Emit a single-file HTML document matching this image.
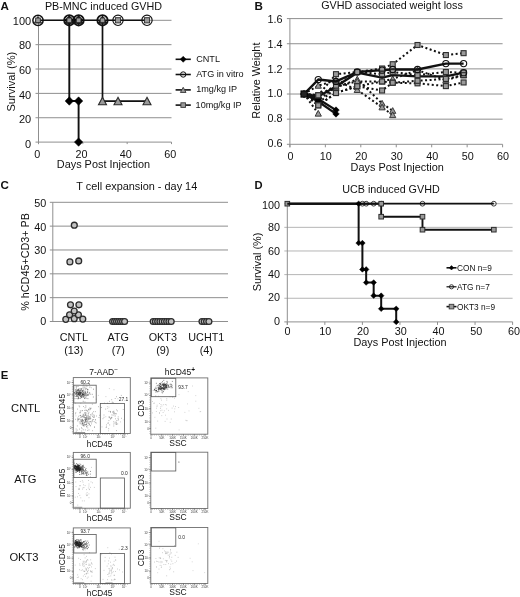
<!DOCTYPE html>
<html lang="en">
<head>
<meta charset="utf-8">
<title>Figure: ATG / OKT3 and GVHD</title>
<style>
html,body{margin:0;padding:0;background:#fff;}
body{width:520px;height:597px;overflow:hidden;font-family:"Liberation Sans", sans-serif;}
svg{display:block;font-family:"Liberation Sans", sans-serif;will-change:transform;-webkit-font-smoothing:antialiased;}
svg text{font-family:"Liberation Sans", sans-serif;}
</style>
</head>
<body>
<svg width="520" height="597" viewBox="0 0 520 597">
<rect x="0" y="0" width="520" height="597" fill="#ffffff"/>
<g id="panelA">
<text x="0.60" y="9.80" font-size="11.6" font-weight="bold" fill="#111">A</text>
<text x="103.50" y="9.70" font-size="10.75" text-anchor="middle" fill="#111">PB-MNC induced GVHD</text>
<line x1="35.50" y1="142.10" x2="171.50" y2="142.10" stroke="#8f8f8f" stroke-width="1"/>
<text x="31.20" y="147.75" font-size="11.0" text-anchor="end" fill="#111">0</text>
<line x1="35.50" y1="117.74" x2="171.50" y2="117.74" stroke="#8f8f8f" stroke-width="1"/>
<text x="31.20" y="123.17" font-size="11.0" text-anchor="end" fill="#111">20</text>
<line x1="35.50" y1="93.38" x2="171.50" y2="93.38" stroke="#8f8f8f" stroke-width="1"/>
<text x="31.20" y="98.59" font-size="11.0" text-anchor="end" fill="#111">40</text>
<line x1="35.50" y1="69.02" x2="171.50" y2="69.02" stroke="#8f8f8f" stroke-width="1"/>
<text x="31.20" y="74.01" font-size="11.0" text-anchor="end" fill="#111">60</text>
<line x1="35.50" y1="44.66" x2="171.50" y2="44.66" stroke="#8f8f8f" stroke-width="1"/>
<text x="31.20" y="49.43" font-size="11.0" text-anchor="end" fill="#111">80</text>
<line x1="35.50" y1="20.30" x2="171.50" y2="20.30" stroke="#8f8f8f" stroke-width="1"/>
<text x="31.20" y="24.85" font-size="11.0" text-anchor="end" fill="#111">100</text>
<line x1="38.50" y1="20.30" x2="38.50" y2="144.10" stroke="#8f8f8f" stroke-width="1"/>
<line x1="38.50" y1="142.10" x2="38.50" y2="144.10" stroke="#8f8f8f" stroke-width="1"/>
<text x="37.20" y="157.60" font-size="10.8" text-anchor="middle" fill="#111">0</text>
<line x1="82.83" y1="142.10" x2="82.83" y2="144.10" stroke="#8f8f8f" stroke-width="1"/>
<text x="81.53" y="157.60" font-size="10.8" text-anchor="middle" fill="#111">20</text>
<line x1="127.17" y1="142.10" x2="127.17" y2="144.10" stroke="#8f8f8f" stroke-width="1"/>
<text x="125.87" y="157.60" font-size="10.8" text-anchor="middle" fill="#111">40</text>
<line x1="171.50" y1="142.10" x2="171.50" y2="144.10" stroke="#8f8f8f" stroke-width="1"/>
<text x="170.20" y="157.60" font-size="10.8" text-anchor="middle" fill="#111">60</text>
<text x="103.40" y="168.20" font-size="10.9" text-anchor="middle" fill="#111">Days Post Injection</text>
<text x="14.90" y="81.70" font-size="11.1" text-anchor="middle" transform="rotate(-90 14.90 81.70)" fill="#111">Survival (%)</text>
<polyline points="38.00,20.30 147.00,20.30" fill="none" stroke="#111" stroke-width="1.6" stroke-linejoin="round"/>
<polyline points="102.50,20.30 102.50,101.04 147.00,101.04" fill="none" stroke="#111" stroke-width="1.7" stroke-linejoin="round"/>
<polyline points="69.30,20.30 69.30,101.04 78.60,101.04 78.60,142.10" fill="none" stroke="#111" stroke-width="1.9" stroke-linejoin="round"/>
<circle cx="38.00" cy="20.30" r="5.15" fill="none" stroke="#111" stroke-width="1.5"/>
<path d="M38.00 16.40L41.60 23.06L34.40 23.06Z" fill="#bbb" stroke="#333" stroke-width="1.0"/>
<rect x="35.70" y="18.00" width="4.60" height="4.60" fill="#9a9a9a" stroke="#2a2a2a" stroke-width="0.9"/>
<path d="M69.30 15.70L73.90 20.30L69.30 24.90L64.70 20.30Z" fill="#000" stroke="#000" stroke-width="0.5"/>
<circle cx="69.30" cy="20.30" r="5.15" fill="none" stroke="#111" stroke-width="1.9"/>
<path d="M69.30 16.30L73.00 23.14L65.60 23.14Z" fill="#777" stroke="#151515" stroke-width="1.3"/>
<rect x="67.00" y="18.00" width="4.60" height="4.60" fill="#9a9a9a" stroke="#2a2a2a" stroke-width="0.9"/>
<path d="M78.60 15.70L83.20 20.30L78.60 24.90L74.00 20.30Z" fill="#000" stroke="#000" stroke-width="0.5"/>
<circle cx="78.60" cy="20.30" r="5.15" fill="none" stroke="#111" stroke-width="1.9"/>
<path d="M78.60 16.30L82.30 23.14L74.90 23.14Z" fill="#777" stroke="#151515" stroke-width="1.3"/>
<rect x="76.30" y="18.00" width="4.60" height="4.60" fill="#9a9a9a" stroke="#2a2a2a" stroke-width="0.9"/>
<circle cx="102.50" cy="20.30" r="5.15" fill="none" stroke="#111" stroke-width="1.9"/>
<path d="M102.50 16.30L106.20 23.14L98.80 23.14Z" fill="#777" stroke="#151515" stroke-width="1.3"/>
<rect x="100.20" y="18.00" width="4.60" height="4.60" fill="#9a9a9a" stroke="#2a2a2a" stroke-width="0.9"/>
<circle cx="118.00" cy="20.30" r="5.15" fill="none" stroke="#111" stroke-width="1.15"/>
<rect x="115.40" y="17.70" width="5.20" height="5.20" fill="#9a9a9a" stroke="#2a2a2a" stroke-width="0.9"/>
<circle cx="147.00" cy="20.30" r="5.15" fill="none" stroke="#111" stroke-width="1.15"/>
<rect x="144.40" y="17.70" width="5.20" height="5.20" fill="#9a9a9a" stroke="#2a2a2a" stroke-width="0.9"/>
<path d="M102.50 97.34L106.50 104.74L98.50 104.74Z" fill="#9a9a9a" stroke="#2a2a2a" stroke-width="1.1"/>
<path d="M118.00 97.34L122.00 104.74L114.00 104.74Z" fill="#9a9a9a" stroke="#2a2a2a" stroke-width="1.1"/>
<path d="M147.00 97.34L151.00 104.74L143.00 104.74Z" fill="#9a9a9a" stroke="#2a2a2a" stroke-width="1.1"/>
<path d="M69.30 96.84L73.50 101.04L69.30 105.24L65.10 101.04Z" fill="#000" stroke="#000" stroke-width="0.5"/>
<path d="M78.60 96.84L82.80 101.04L78.60 105.24L74.40 101.04Z" fill="#000" stroke="#000" stroke-width="0.5"/>
<path d="M78.60 137.90L82.80 142.10L78.60 146.30L74.40 142.10Z" fill="#000" stroke="#000" stroke-width="0.5"/>
<line x1="175.60" y1="59.30" x2="190.80" y2="59.30" stroke="#111" stroke-width="1.6"/>
<path d="M183.20 56.30L186.20 59.30L183.20 62.30L180.20 59.30Z" fill="#000" stroke="#000" stroke-width="0.5"/>
<text x="196.20" y="61.80" font-size="9.1" fill="#111">CNTL</text>
<line x1="175.60" y1="74.50" x2="190.80" y2="74.50" stroke="#111" stroke-width="1.6"/>
<circle cx="183.20" cy="74.50" r="2.7" fill="none" stroke="#111" stroke-width="1"/>
<text x="196.20" y="77.00" font-size="9.1" fill="#111">ATG in vitro</text>
<line x1="175.60" y1="89.90" x2="190.80" y2="89.90" stroke="#111" stroke-width="1.6"/>
<path d="M183.20 87.30L186.00 92.48L180.40 92.48Z" fill="#9a9a9a" stroke="#3a3a3a" stroke-width="0.9"/>
<text x="196.20" y="92.40" font-size="9.1" fill="#111">1mg/kg IP</text>
<line x1="175.60" y1="105.10" x2="190.80" y2="105.10" stroke="#111" stroke-width="1.6"/>
<rect x="180.90" y="102.80" width="4.60" height="4.60" fill="#9a9a9a" stroke="#3a3a3a" stroke-width="0.9"/>
<text x="195.60" y="107.60" font-size="9.1" fill="#111">10mg/kg IP</text>
</g>
<g id="panelB">
<text x="254.40" y="9.80" font-size="11.6" font-weight="bold" fill="#111">B</text>
<text x="392.00" y="9.40" font-size="10.75" text-anchor="middle" fill="#111">GVHD associated weight loss</text>
<line x1="286.90" y1="144.30" x2="502.60" y2="144.30" stroke="#8f8f8f" stroke-width="1"/>
<text x="282.50" y="146.80" font-size="10.8" text-anchor="end" fill="#111">0.6</text>
<line x1="286.90" y1="119.16" x2="502.60" y2="119.16" stroke="#8f8f8f" stroke-width="1"/>
<text x="282.50" y="122.08" font-size="10.8" text-anchor="end" fill="#111">0.8</text>
<line x1="286.90" y1="94.02" x2="502.60" y2="94.02" stroke="#8f8f8f" stroke-width="1"/>
<text x="282.50" y="97.36" font-size="10.8" text-anchor="end" fill="#111">1.0</text>
<line x1="286.90" y1="68.88" x2="502.60" y2="68.88" stroke="#8f8f8f" stroke-width="1"/>
<text x="282.50" y="72.64" font-size="10.8" text-anchor="end" fill="#111">1.2</text>
<line x1="286.90" y1="43.74" x2="502.60" y2="43.74" stroke="#8f8f8f" stroke-width="1"/>
<text x="282.50" y="47.92" font-size="10.8" text-anchor="end" fill="#111">1.4</text>
<line x1="286.90" y1="18.60" x2="502.60" y2="18.60" stroke="#8f8f8f" stroke-width="1"/>
<text x="282.50" y="23.20" font-size="10.8" text-anchor="end" fill="#111">1.6</text>
<line x1="289.90" y1="18.60" x2="289.90" y2="147.30" stroke="#8f8f8f" stroke-width="1"/>
<line x1="289.90" y1="144.30" x2="289.90" y2="147.30" stroke="#8f8f8f" stroke-width="1"/>
<text x="290.40" y="159.70" font-size="10.8" text-anchor="middle" fill="#111">0</text>
<line x1="325.35" y1="144.30" x2="325.35" y2="147.30" stroke="#8f8f8f" stroke-width="1"/>
<text x="325.85" y="159.70" font-size="10.8" text-anchor="middle" fill="#111">10</text>
<line x1="360.80" y1="144.30" x2="360.80" y2="147.30" stroke="#8f8f8f" stroke-width="1"/>
<text x="361.30" y="159.70" font-size="10.8" text-anchor="middle" fill="#111">20</text>
<line x1="396.25" y1="144.30" x2="396.25" y2="147.30" stroke="#8f8f8f" stroke-width="1"/>
<text x="396.75" y="159.70" font-size="10.8" text-anchor="middle" fill="#111">30</text>
<line x1="431.70" y1="144.30" x2="431.70" y2="147.30" stroke="#8f8f8f" stroke-width="1"/>
<text x="432.20" y="159.70" font-size="10.8" text-anchor="middle" fill="#111">40</text>
<line x1="467.15" y1="144.30" x2="467.15" y2="147.30" stroke="#8f8f8f" stroke-width="1"/>
<text x="467.65" y="159.70" font-size="10.8" text-anchor="middle" fill="#111">50</text>
<line x1="502.60" y1="144.30" x2="502.60" y2="147.30" stroke="#8f8f8f" stroke-width="1"/>
<text x="503.10" y="159.70" font-size="10.8" text-anchor="middle" fill="#111">60</text>
<text x="397.20" y="171.20" font-size="10.9" text-anchor="middle" fill="#111">Days Post Injection</text>
<text x="260.20" y="80.60" font-size="10.9" text-anchor="middle" transform="rotate(-90 260.20 80.60)" fill="#111">Relative Weight</text>
<polyline points="304.08,94.02 318.26,113.50" fill="none" stroke="#111" stroke-width="2.0" stroke-dasharray="2.0 2.5" stroke-linejoin="round"/>
<polyline points="304.08,94.02 318.26,103.45 335.99,87.74 357.25,79.31 382.07,103.45 392.70,110.74" fill="none" stroke="#111" stroke-width="2.0" stroke-dasharray="2.0 2.5" stroke-linejoin="round"/>
<polyline points="304.08,94.02 318.26,85.60 335.99,80.44 357.25,89.87 382.07,107.22 392.70,115.01" fill="none" stroke="#111" stroke-width="2.0" stroke-dasharray="2.0 2.5" stroke-linejoin="round"/>
<polyline points="304.08,94.02 318.26,100.31 335.99,86.48 357.25,81.45 382.07,81.45 392.70,78.94 417.52,70.14 445.88,80.19 463.61,75.17" fill="none" stroke="#111" stroke-width="2.0" stroke-dasharray="2.0 2.5" stroke-linejoin="round"/>
<polyline points="304.08,94.02 318.26,95.28 335.99,74.16 357.25,72.02 382.07,68.50 392.70,64.23 417.52,45.00 445.88,55.05 463.61,53.17" fill="none" stroke="#111" stroke-width="2.0" stroke-dasharray="2.0 2.5" stroke-linejoin="round"/>
<polyline points="304.08,94.02 318.26,105.33 335.99,93.01 357.25,86.23 382.07,90.50 392.70,82.71 417.52,83.34 445.88,86.10 463.61,82.46" fill="none" stroke="#111" stroke-width="2.0" stroke-dasharray="2.0 2.5" stroke-linejoin="round"/>
<polyline points="304.08,94.02 318.26,95.28 335.99,85.60 357.25,72.02 382.07,74.16 392.70,72.02 417.52,75.17 445.88,72.02 463.61,72.65" fill="none" stroke="#111" stroke-width="2.0" stroke-dasharray="2.0 2.5" stroke-linejoin="round"/>
<polyline points="304.08,94.02 318.26,105.33 335.99,93.01 357.25,86.23 382.07,81.45 392.70,82.71 417.52,80.82 445.88,78.94 463.61,75.17" fill="none" stroke="#111" stroke-width="2.0" stroke-dasharray="2.0 2.5" stroke-linejoin="round"/>
<path d="M318.26 110.40L321.36 116.14L315.16 116.14Z" fill="#9a9a9a" stroke="#3a3a3a" stroke-width="1"/>
<path d="M318.26 100.35L321.36 106.08L315.16 106.08Z" fill="#9a9a9a" stroke="#3a3a3a" stroke-width="1"/>
<path d="M335.99 84.64L339.09 90.37L332.88 90.37Z" fill="#9a9a9a" stroke="#3a3a3a" stroke-width="1"/>
<path d="M357.25 76.21L360.36 81.95L354.15 81.95Z" fill="#9a9a9a" stroke="#3a3a3a" stroke-width="1"/>
<path d="M382.07 100.35L385.17 106.08L378.97 106.08Z" fill="#9a9a9a" stroke="#3a3a3a" stroke-width="1"/>
<path d="M392.70 107.64L395.81 113.37L389.60 113.37Z" fill="#9a9a9a" stroke="#3a3a3a" stroke-width="1"/>
<path d="M318.26 82.50L321.36 88.23L315.16 88.23Z" fill="#9a9a9a" stroke="#3a3a3a" stroke-width="1"/>
<path d="M335.99 77.34L339.09 83.08L332.88 83.08Z" fill="#9a9a9a" stroke="#3a3a3a" stroke-width="1"/>
<path d="M357.25 86.77L360.36 92.51L354.15 92.51Z" fill="#9a9a9a" stroke="#3a3a3a" stroke-width="1"/>
<path d="M382.07 104.12L385.17 109.85L378.97 109.85Z" fill="#9a9a9a" stroke="#3a3a3a" stroke-width="1"/>
<path d="M392.70 111.91L395.81 117.65L389.60 117.65Z" fill="#9a9a9a" stroke="#3a3a3a" stroke-width="1"/>
<path d="M318.26 97.21L321.36 102.94L315.16 102.94Z" fill="#9a9a9a" stroke="#3a3a3a" stroke-width="1"/>
<path d="M335.99 83.38L339.09 89.11L332.88 89.11Z" fill="#9a9a9a" stroke="#3a3a3a" stroke-width="1"/>
<path d="M357.25 78.35L360.36 84.09L354.15 84.09Z" fill="#9a9a9a" stroke="#3a3a3a" stroke-width="1"/>
<path d="M382.07 78.35L385.17 84.09L378.97 84.09Z" fill="#9a9a9a" stroke="#3a3a3a" stroke-width="1"/>
<path d="M392.70 75.84L395.81 81.57L389.60 81.57Z" fill="#9a9a9a" stroke="#3a3a3a" stroke-width="1"/>
<path d="M417.52 67.04L420.62 72.77L414.42 72.77Z" fill="#9a9a9a" stroke="#3a3a3a" stroke-width="1"/>
<path d="M445.88 77.09L448.98 82.83L442.78 82.83Z" fill="#9a9a9a" stroke="#3a3a3a" stroke-width="1"/>
<path d="M463.61 72.07L466.71 77.80L460.50 77.80Z" fill="#9a9a9a" stroke="#3a3a3a" stroke-width="1"/>
<polyline points="304.08,94.02 318.26,79.56 335.99,81.45 357.25,72.02 382.07,70.14 392.70,69.51 417.52,69.51 445.88,63.60 463.61,63.60" fill="none" stroke="#111" stroke-width="2.4" stroke-linejoin="round"/>
<polyline points="304.08,94.02 318.26,96.53 335.99,86.48 357.25,72.65 382.07,77.68 392.70,75.17 417.52,76.42 445.88,76.42 463.61,72.65" fill="none" stroke="#111" stroke-width="2.4" stroke-linejoin="round"/>
<polyline points="304.08,94.02 318.26,101.56 335.99,113.88" fill="none" stroke="#111" stroke-width="2.3" stroke-linejoin="round"/>
<path d="M318.26 98.26L321.56 101.56L318.26 104.86L314.96 101.56Z" fill="#000" stroke="#000" stroke-width="0.5"/>
<path d="M335.99 110.58L339.29 113.88L335.99 117.18L332.69 113.88Z" fill="#000" stroke="#000" stroke-width="0.5"/>
<polyline points="304.08,94.02 318.26,99.05 335.99,110.11" fill="none" stroke="#111" stroke-width="2.3" stroke-linejoin="round"/>
<path d="M318.26 95.75L321.56 99.05L318.26 102.35L314.96 99.05Z" fill="#000" stroke="#000" stroke-width="0.5"/>
<path d="M335.99 106.81L339.29 110.11L335.99 113.41L332.69 110.11Z" fill="#000" stroke="#000" stroke-width="0.5"/>
<rect x="315.76" y="92.78" width="5.00" height="5.00" fill="#9a9a9a" stroke="#2e2e2e" stroke-width="1.1"/>
<rect x="333.49" y="71.66" width="5.00" height="5.00" fill="#9a9a9a" stroke="#2e2e2e" stroke-width="1.1"/>
<rect x="354.75" y="69.52" width="5.00" height="5.00" fill="#9a9a9a" stroke="#2e2e2e" stroke-width="1.1"/>
<rect x="379.57" y="66.00" width="5.00" height="5.00" fill="#9a9a9a" stroke="#2e2e2e" stroke-width="1.1"/>
<rect x="390.20" y="61.73" width="5.00" height="5.00" fill="#9a9a9a" stroke="#2e2e2e" stroke-width="1.1"/>
<rect x="415.02" y="42.50" width="5.00" height="5.00" fill="#9a9a9a" stroke="#2e2e2e" stroke-width="1.1"/>
<rect x="443.38" y="52.55" width="5.00" height="5.00" fill="#9a9a9a" stroke="#2e2e2e" stroke-width="1.1"/>
<rect x="461.11" y="50.67" width="5.00" height="5.00" fill="#9a9a9a" stroke="#2e2e2e" stroke-width="1.1"/>
<rect x="315.76" y="102.83" width="5.00" height="5.00" fill="#9a9a9a" stroke="#2e2e2e" stroke-width="1.1"/>
<rect x="333.49" y="90.51" width="5.00" height="5.00" fill="#9a9a9a" stroke="#2e2e2e" stroke-width="1.1"/>
<rect x="354.75" y="83.73" width="5.00" height="5.00" fill="#9a9a9a" stroke="#2e2e2e" stroke-width="1.1"/>
<rect x="379.57" y="88.00" width="5.00" height="5.00" fill="#9a9a9a" stroke="#2e2e2e" stroke-width="1.1"/>
<rect x="390.20" y="80.21" width="5.00" height="5.00" fill="#9a9a9a" stroke="#2e2e2e" stroke-width="1.1"/>
<rect x="415.02" y="80.84" width="5.00" height="5.00" fill="#9a9a9a" stroke="#2e2e2e" stroke-width="1.1"/>
<rect x="443.38" y="83.60" width="5.00" height="5.00" fill="#9a9a9a" stroke="#2e2e2e" stroke-width="1.1"/>
<rect x="461.11" y="79.96" width="5.00" height="5.00" fill="#9a9a9a" stroke="#2e2e2e" stroke-width="1.1"/>
<rect x="315.76" y="92.78" width="5.00" height="5.00" fill="#9a9a9a" stroke="#2e2e2e" stroke-width="1.1"/>
<rect x="333.49" y="83.10" width="5.00" height="5.00" fill="#9a9a9a" stroke="#2e2e2e" stroke-width="1.1"/>
<rect x="354.75" y="69.52" width="5.00" height="5.00" fill="#9a9a9a" stroke="#2e2e2e" stroke-width="1.1"/>
<rect x="379.57" y="71.66" width="5.00" height="5.00" fill="#9a9a9a" stroke="#2e2e2e" stroke-width="1.1"/>
<rect x="390.20" y="69.52" width="5.00" height="5.00" fill="#9a9a9a" stroke="#2e2e2e" stroke-width="1.1"/>
<rect x="415.02" y="72.67" width="5.00" height="5.00" fill="#9a9a9a" stroke="#2e2e2e" stroke-width="1.1"/>
<rect x="443.38" y="69.52" width="5.00" height="5.00" fill="#9a9a9a" stroke="#2e2e2e" stroke-width="1.1"/>
<rect x="461.11" y="70.15" width="5.00" height="5.00" fill="#9a9a9a" stroke="#2e2e2e" stroke-width="1.1"/>
<rect x="315.76" y="102.83" width="5.00" height="5.00" fill="#9a9a9a" stroke="#2e2e2e" stroke-width="1.1"/>
<rect x="333.49" y="90.51" width="5.00" height="5.00" fill="#9a9a9a" stroke="#2e2e2e" stroke-width="1.1"/>
<rect x="354.75" y="83.73" width="5.00" height="5.00" fill="#9a9a9a" stroke="#2e2e2e" stroke-width="1.1"/>
<rect x="379.57" y="78.95" width="5.00" height="5.00" fill="#9a9a9a" stroke="#2e2e2e" stroke-width="1.1"/>
<rect x="390.20" y="80.21" width="5.00" height="5.00" fill="#9a9a9a" stroke="#2e2e2e" stroke-width="1.1"/>
<rect x="415.02" y="78.32" width="5.00" height="5.00" fill="#9a9a9a" stroke="#2e2e2e" stroke-width="1.1"/>
<rect x="443.38" y="76.44" width="5.00" height="5.00" fill="#9a9a9a" stroke="#2e2e2e" stroke-width="1.1"/>
<rect x="461.11" y="72.67" width="5.00" height="5.00" fill="#9a9a9a" stroke="#2e2e2e" stroke-width="1.1"/>
<circle cx="318.26" cy="79.56" r="3.1" fill="none" stroke="#111" stroke-width="1.1"/>
<circle cx="335.99" cy="81.45" r="3.1" fill="none" stroke="#111" stroke-width="1.1"/>
<circle cx="357.25" cy="72.02" r="3.1" fill="none" stroke="#111" stroke-width="1.1"/>
<circle cx="382.07" cy="70.14" r="3.1" fill="none" stroke="#111" stroke-width="1.1"/>
<circle cx="392.70" cy="69.51" r="3.1" fill="none" stroke="#111" stroke-width="1.1"/>
<circle cx="417.52" cy="69.51" r="3.1" fill="none" stroke="#111" stroke-width="1.1"/>
<circle cx="445.88" cy="63.60" r="3.1" fill="none" stroke="#111" stroke-width="1.1"/>
<circle cx="463.61" cy="63.60" r="3.1" fill="none" stroke="#111" stroke-width="1.1"/>
<circle cx="463.61" cy="72.65" r="3.1" fill="none" stroke="#111" stroke-width="1.1"/>
<path d="M304.08 90.22L307.88 94.02L304.08 97.82L300.28 94.02Z" fill="#000" stroke="#000" stroke-width="0.5"/>
<rect x="300.98" y="90.92" width="6.20" height="6.20" fill="#222" stroke="#000" stroke-width="1"/>
</g>
<g id="panelC">
<text x="0.50" y="188.50" font-size="11.6" font-weight="bold" fill="#111">C</text>
<text x="136.80" y="189.90" font-size="10.9" text-anchor="middle" fill="#111">T cell expansion - day 14</text>
<line x1="49.80" y1="321.50" x2="228.00" y2="321.50" stroke="#8f8f8f" stroke-width="1"/>
<text x="46.20" y="325.10" font-size="10.8" text-anchor="end" fill="#111">0</text>
<line x1="49.80" y1="297.66" x2="228.00" y2="297.66" stroke="#8f8f8f" stroke-width="1"/>
<text x="46.20" y="301.56" font-size="10.8" text-anchor="end" fill="#111">10</text>
<line x1="49.80" y1="273.82" x2="228.00" y2="273.82" stroke="#8f8f8f" stroke-width="1"/>
<text x="46.20" y="278.02" font-size="10.8" text-anchor="end" fill="#111">20</text>
<line x1="49.80" y1="249.98" x2="228.00" y2="249.98" stroke="#8f8f8f" stroke-width="1"/>
<text x="46.20" y="254.48" font-size="10.8" text-anchor="end" fill="#111">30</text>
<line x1="49.80" y1="226.14" x2="228.00" y2="226.14" stroke="#8f8f8f" stroke-width="1"/>
<text x="46.20" y="230.94" font-size="10.8" text-anchor="end" fill="#111">40</text>
<line x1="49.80" y1="202.30" x2="228.00" y2="202.30" stroke="#8f8f8f" stroke-width="1"/>
<text x="46.20" y="207.40" font-size="10.8" text-anchor="end" fill="#111">50</text>
<line x1="52.80" y1="202.30" x2="52.80" y2="321.50" stroke="#8f8f8f" stroke-width="1"/>
<text x="28.90" y="261.90" font-size="10.8" text-anchor="middle" transform="rotate(-90 28.90 261.90)" fill="#111">% hCD45+CD3+ PB</text>
<text x="73.80" y="340.50" font-size="10.8" text-anchor="middle" fill="#111">CNTL</text>
<text x="73.80" y="353.90" font-size="10.8" text-anchor="middle" fill="#111">(13)</text>
<text x="118.30" y="340.50" font-size="10.8" text-anchor="middle" fill="#111">ATG</text>
<text x="118.30" y="353.90" font-size="10.8" text-anchor="middle" fill="#111">(7)</text>
<text x="162.80" y="340.50" font-size="10.8" text-anchor="middle" fill="#111">OKT3</text>
<text x="162.80" y="353.90" font-size="10.8" text-anchor="middle" fill="#111">(9)</text>
<text x="206.30" y="340.50" font-size="10.8" text-anchor="middle" fill="#111">UCHT1</text>
<text x="206.30" y="353.90" font-size="10.8" text-anchor="middle" fill="#111">(4)</text>
<circle cx="65.80" cy="319.35" r="2.95" fill="#c2c2c2" stroke="#2c2c2c" stroke-width="1.3"/>
<circle cx="74.20" cy="318.64" r="2.95" fill="#c2c2c2" stroke="#2c2c2c" stroke-width="1.3"/>
<circle cx="82.80" cy="319.12" r="2.95" fill="#c2c2c2" stroke="#2c2c2c" stroke-width="1.3"/>
<circle cx="69.60" cy="314.82" r="2.95" fill="#c2c2c2" stroke="#2c2c2c" stroke-width="1.3"/>
<circle cx="78.40" cy="314.82" r="2.95" fill="#c2c2c2" stroke="#2c2c2c" stroke-width="1.3"/>
<circle cx="74.20" cy="311.01" r="2.95" fill="#c2c2c2" stroke="#2c2c2c" stroke-width="1.3"/>
<circle cx="70.50" cy="304.81" r="2.95" fill="#c2c2c2" stroke="#2c2c2c" stroke-width="1.3"/>
<circle cx="78.90" cy="304.81" r="2.95" fill="#c2c2c2" stroke="#2c2c2c" stroke-width="1.3"/>
<circle cx="69.90" cy="261.90" r="2.95" fill="#c2c2c2" stroke="#2c2c2c" stroke-width="1.3"/>
<circle cx="78.70" cy="260.95" r="2.95" fill="#c2c2c2" stroke="#2c2c2c" stroke-width="1.3"/>
<circle cx="74.30" cy="225.19" r="2.95" fill="#c2c2c2" stroke="#2c2c2c" stroke-width="1.3"/>
<circle cx="112.60" cy="321.50" r="2.95" fill="#c2c2c2" stroke="#2c2c2c" stroke-width="1.3"/>
<circle cx="114.60" cy="321.50" r="2.95" fill="#c2c2c2" stroke="#2c2c2c" stroke-width="1.3"/>
<circle cx="116.60" cy="321.50" r="2.95" fill="#c2c2c2" stroke="#2c2c2c" stroke-width="1.3"/>
<circle cx="118.60" cy="321.50" r="2.95" fill="#c2c2c2" stroke="#2c2c2c" stroke-width="1.3"/>
<circle cx="120.60" cy="321.50" r="2.95" fill="#c2c2c2" stroke="#2c2c2c" stroke-width="1.3"/>
<circle cx="122.60" cy="321.50" r="2.95" fill="#c2c2c2" stroke="#2c2c2c" stroke-width="1.3"/>
<circle cx="124.60" cy="321.50" r="2.95" fill="#c2c2c2" stroke="#2c2c2c" stroke-width="1.3"/>
<circle cx="153.20" cy="321.50" r="2.95" fill="#c2c2c2" stroke="#2c2c2c" stroke-width="1.3"/>
<circle cx="155.45" cy="321.50" r="2.95" fill="#c2c2c2" stroke="#2c2c2c" stroke-width="1.3"/>
<circle cx="157.70" cy="321.50" r="2.95" fill="#c2c2c2" stroke="#2c2c2c" stroke-width="1.3"/>
<circle cx="159.95" cy="321.50" r="2.95" fill="#c2c2c2" stroke="#2c2c2c" stroke-width="1.3"/>
<circle cx="162.20" cy="321.50" r="2.95" fill="#c2c2c2" stroke="#2c2c2c" stroke-width="1.3"/>
<circle cx="164.45" cy="321.50" r="2.95" fill="#c2c2c2" stroke="#2c2c2c" stroke-width="1.3"/>
<circle cx="166.70" cy="321.50" r="2.95" fill="#c2c2c2" stroke="#2c2c2c" stroke-width="1.3"/>
<circle cx="168.95" cy="321.50" r="2.95" fill="#c2c2c2" stroke="#2c2c2c" stroke-width="1.3"/>
<circle cx="171.20" cy="321.50" r="2.95" fill="#c2c2c2" stroke="#2c2c2c" stroke-width="1.3"/>
<circle cx="202.00" cy="321.50" r="2.95" fill="#c2c2c2" stroke="#2c2c2c" stroke-width="1.3"/>
<circle cx="204.30" cy="321.50" r="2.95" fill="#c2c2c2" stroke="#2c2c2c" stroke-width="1.3"/>
<circle cx="206.60" cy="321.50" r="2.95" fill="#c2c2c2" stroke="#2c2c2c" stroke-width="1.3"/>
<circle cx="208.90" cy="321.50" r="2.95" fill="#c2c2c2" stroke="#2c2c2c" stroke-width="1.3"/>
</g>
<g id="panelD">
<text x="254.60" y="188.60" font-size="11.2" font-weight="bold" fill="#111">D</text>
<text x="391.00" y="192.90" font-size="10.75" text-anchor="middle" fill="#111">UCB induced GVHD</text>
<line x1="284.30" y1="321.90" x2="512.60" y2="321.90" stroke="#8f8f8f" stroke-width="1"/>
<text x="279.90" y="324.80" font-size="10.8" text-anchor="end" fill="#111">0</text>
<line x1="284.30" y1="298.26" x2="512.60" y2="298.26" stroke="#b5b5b5" stroke-width="1"/>
<text x="279.90" y="301.41" font-size="10.8" text-anchor="end" fill="#111">20</text>
<line x1="284.30" y1="274.62" x2="512.60" y2="274.62" stroke="#b5b5b5" stroke-width="1"/>
<text x="279.90" y="278.02" font-size="10.8" text-anchor="end" fill="#111">40</text>
<line x1="284.30" y1="250.98" x2="512.60" y2="250.98" stroke="#b5b5b5" stroke-width="1"/>
<text x="279.90" y="254.63" font-size="10.8" text-anchor="end" fill="#111">60</text>
<line x1="284.30" y1="227.34" x2="512.60" y2="227.34" stroke="#b5b5b5" stroke-width="1"/>
<text x="279.90" y="231.24" font-size="10.8" text-anchor="end" fill="#111">80</text>
<line x1="284.30" y1="203.70" x2="512.60" y2="203.70" stroke="#b5b5b5" stroke-width="1"/>
<text x="279.90" y="208.80" font-size="10.8" text-anchor="end" fill="#111">100</text>
<line x1="287.30" y1="203.70" x2="287.30" y2="324.90" stroke="#8f8f8f" stroke-width="1"/>
<line x1="287.30" y1="321.90" x2="287.30" y2="324.90" stroke="#8f8f8f" stroke-width="1"/>
<text x="287.50" y="334.80" font-size="10.8" text-anchor="middle" fill="#111">0</text>
<line x1="324.85" y1="321.90" x2="324.85" y2="324.90" stroke="#8f8f8f" stroke-width="1"/>
<text x="325.25" y="334.80" font-size="10.8" text-anchor="middle" fill="#111">10</text>
<line x1="362.40" y1="321.90" x2="362.40" y2="324.90" stroke="#8f8f8f" stroke-width="1"/>
<text x="363.00" y="334.80" font-size="10.8" text-anchor="middle" fill="#111">20</text>
<line x1="399.95" y1="321.90" x2="399.95" y2="324.90" stroke="#8f8f8f" stroke-width="1"/>
<text x="400.75" y="334.80" font-size="10.8" text-anchor="middle" fill="#111">30</text>
<line x1="437.50" y1="321.90" x2="437.50" y2="324.90" stroke="#8f8f8f" stroke-width="1"/>
<text x="438.50" y="334.80" font-size="10.8" text-anchor="middle" fill="#111">40</text>
<line x1="475.05" y1="321.90" x2="475.05" y2="324.90" stroke="#8f8f8f" stroke-width="1"/>
<text x="476.25" y="334.80" font-size="10.8" text-anchor="middle" fill="#111">50</text>
<line x1="512.60" y1="321.90" x2="512.60" y2="324.90" stroke="#8f8f8f" stroke-width="1"/>
<text x="514.00" y="334.80" font-size="10.8" text-anchor="middle" fill="#111">60</text>
<text x="400.00" y="346.10" font-size="10.9" text-anchor="middle" fill="#111">Days Post Injection</text>
<text x="260.90" y="262.00" font-size="10.9" text-anchor="middle" transform="rotate(-90 260.90 262.00)" fill="#111">Survival (%)</text>
<polyline points="287.30,203.70 493.83,203.70" fill="none" stroke="#111" stroke-width="1.7" stroke-linejoin="round"/>
<circle cx="362.40" cy="203.70" r="2.4" fill="none" stroke="#111" stroke-width="0.8"/>
<circle cx="366.16" cy="203.70" r="2.4" fill="none" stroke="#111" stroke-width="0.8"/>
<circle cx="373.67" cy="203.70" r="2.4" fill="none" stroke="#111" stroke-width="0.8"/>
<circle cx="381.18" cy="203.70" r="2.4" fill="none" stroke="#111" stroke-width="0.8"/>
<circle cx="422.48" cy="203.70" r="2.4" fill="none" stroke="#111" stroke-width="0.8"/>
<circle cx="493.83" cy="203.70" r="2.4" fill="none" stroke="#111" stroke-width="0.8"/>
<polyline points="287.30,203.70 381.18,203.70 381.18,216.70 422.48,216.70 422.48,229.70 493.83,229.70" fill="none" stroke="#111" stroke-width="1.9" stroke-linejoin="round"/>
<rect x="285.00" y="201.40" width="4.60" height="4.60" fill="#9a9a9a" stroke="#2e2e2e" stroke-width="1.0"/>
<rect x="378.88" y="201.40" width="4.60" height="4.60" fill="#9a9a9a" stroke="#2e2e2e" stroke-width="1.0"/>
<rect x="378.88" y="214.40" width="4.60" height="4.60" fill="#9a9a9a" stroke="#2e2e2e" stroke-width="1.0"/>
<rect x="420.18" y="214.40" width="4.60" height="4.60" fill="#9a9a9a" stroke="#2e2e2e" stroke-width="1.0"/>
<rect x="420.18" y="227.40" width="4.60" height="4.60" fill="#9a9a9a" stroke="#2e2e2e" stroke-width="1.0"/>
<rect x="491.53" y="227.40" width="4.60" height="4.60" fill="#9a9a9a" stroke="#2e2e2e" stroke-width="1.0"/>
<polyline points="287.30,203.70 358.64,203.70 358.64,243.06 362.40,243.06 362.40,269.42 366.16,269.42 366.16,282.54 373.67,282.54 373.67,295.66 381.18,295.66 381.18,308.78 396.20,308.78 396.20,321.90" fill="none" stroke="#111" stroke-width="2" stroke-linejoin="round"/>
<path d="M358.64 200.90L361.44 203.70L358.64 206.50L355.84 203.70Z" fill="#000" stroke="#000" stroke-width="0.5"/>
<path d="M358.64 240.26L361.44 243.06L358.64 245.86L355.84 243.06Z" fill="#000" stroke="#000" stroke-width="0.5"/>
<path d="M362.40 240.26L365.20 243.06L362.40 245.86L359.60 243.06Z" fill="#000" stroke="#000" stroke-width="0.5"/>
<path d="M362.40 266.62L365.20 269.42L362.40 272.22L359.60 269.42Z" fill="#000" stroke="#000" stroke-width="0.5"/>
<path d="M366.16 266.62L368.96 269.42L366.16 272.22L363.36 269.42Z" fill="#000" stroke="#000" stroke-width="0.5"/>
<path d="M366.16 279.74L368.96 282.54L366.16 285.34L363.36 282.54Z" fill="#000" stroke="#000" stroke-width="0.5"/>
<path d="M373.67 279.74L376.47 282.54L373.67 285.34L370.87 282.54Z" fill="#000" stroke="#000" stroke-width="0.5"/>
<path d="M373.67 292.86L376.47 295.66L373.67 298.46L370.87 295.66Z" fill="#000" stroke="#000" stroke-width="0.5"/>
<path d="M381.18 292.86L383.98 295.66L381.18 298.46L378.38 295.66Z" fill="#000" stroke="#000" stroke-width="0.5"/>
<path d="M381.18 305.98L383.98 308.78L381.18 311.58L378.38 308.78Z" fill="#000" stroke="#000" stroke-width="0.5"/>
<path d="M396.20 305.98L399.00 308.78L396.20 311.58L393.40 308.78Z" fill="#000" stroke="#000" stroke-width="0.5"/>
<path d="M396.20 319.10L399.00 321.90L396.20 324.70L393.40 321.90Z" fill="#000" stroke="#000" stroke-width="0.5"/>
<line x1="446.50" y1="267.80" x2="456.50" y2="267.80" stroke="#111" stroke-width="1.6"/>
<path d="M451.50 265.60L453.70 267.80L451.50 270.00L449.30 267.80Z" fill="#000" stroke="#000" stroke-width="0.5"/>
<text x="457.00" y="270.80" font-size="8.3" fill="#111">CON n=9</text>
<line x1="446.50" y1="286.80" x2="456.50" y2="286.80" stroke="#111" stroke-width="1.2"/>
<circle cx="451.50" cy="286.80" r="2.1" fill="none" stroke="#111" stroke-width="0.8"/>
<text x="457.00" y="289.80" font-size="8.3" fill="#111">ATG n=7</text>
<line x1="446.50" y1="306.60" x2="456.50" y2="306.60" stroke="#111" stroke-width="1.6"/>
<rect x="449.20" y="304.30" width="4.60" height="4.60" fill="#9a9a9a" stroke="#3a3a3a" stroke-width="0.9"/>
<text x="457.00" y="309.60" font-size="8.3" fill="#111">OKT3 n=9</text>
</g>
<g id="panelE">
<text x="0.80" y="378.60" font-size="11.4" font-weight="bold" fill="#111">E</text>
<text x="103.6" y="374.9" font-size="8.5" text-anchor="middle" fill="#111">7-AAD<tspan dy="-3.2" font-size="6.5">&#8722;</tspan></text>
<text x="180.0" y="374.9" font-size="8.5" text-anchor="middle" fill="#111">hCD45<tspan dy="-3.0" font-size="6.5" font-weight="bold">+</tspan></text>
<text x="25.70" y="411.70" font-size="11.2" text-anchor="middle" fill="#111">CNTL</text>
<rect x="73.30" y="377.60" width="57.00" height="55.90" fill="#fff" stroke="#6e6e6e" stroke-width="0.9"/>
<line x1="72.40" y1="380.60" x2="72.40" y2="433.50" stroke="#777" stroke-width="0.9" stroke-dasharray="0.45 1.35"/>
<line x1="73.30" y1="434.40" x2="128.30" y2="434.40" stroke="#777" stroke-width="0.9" stroke-dasharray="0.45 1.35"/>
<line x1="71.70" y1="427.80" x2="73.30" y2="427.80" stroke="#555" stroke-width="0.6"/>
<text x="71.30" y="428.80" font-size="3.0" text-anchor="end" fill="#3a3a3a">0</text>
<line x1="71.70" y1="421.30" x2="73.30" y2="421.30" stroke="#555" stroke-width="0.6"/>
<text x="71.30" y="422.30" font-size="3.0" text-anchor="end" fill="#3a3a3a">10&#178;</text>
<line x1="71.70" y1="408.00" x2="73.30" y2="408.00" stroke="#555" stroke-width="0.6"/>
<text x="71.30" y="409.00" font-size="3.0" text-anchor="end" fill="#3a3a3a">10&#179;</text>
<line x1="71.70" y1="394.70" x2="73.30" y2="394.70" stroke="#555" stroke-width="0.6"/>
<text x="71.30" y="395.70" font-size="3.0" text-anchor="end" fill="#3a3a3a">10&#8308;</text>
<line x1="71.70" y1="382.50" x2="73.30" y2="382.50" stroke="#555" stroke-width="0.6"/>
<text x="71.30" y="383.50" font-size="3.0" text-anchor="end" fill="#3a3a3a">10&#8309;</text>
<line x1="79.80" y1="433.50" x2="79.80" y2="435.10" stroke="#555" stroke-width="0.6"/>
<text x="79.80" y="437.90" font-size="3.0" text-anchor="middle" fill="#3a3a3a">0</text>
<line x1="85.20" y1="433.50" x2="85.20" y2="435.10" stroke="#555" stroke-width="0.6"/>
<text x="85.20" y="437.90" font-size="3.0" text-anchor="middle" fill="#3a3a3a">10&#178;</text>
<line x1="98.60" y1="433.50" x2="98.60" y2="435.10" stroke="#555" stroke-width="0.6"/>
<text x="98.60" y="437.90" font-size="3.0" text-anchor="middle" fill="#3a3a3a">10&#179;</text>
<line x1="112.80" y1="433.50" x2="112.80" y2="435.10" stroke="#555" stroke-width="0.6"/>
<text x="112.80" y="437.90" font-size="3.0" text-anchor="middle" fill="#3a3a3a">10&#8308;</text>
<line x1="124.20" y1="433.50" x2="124.20" y2="435.10" stroke="#555" stroke-width="0.6"/>
<text x="124.20" y="437.90" font-size="3.0" text-anchor="middle" fill="#3a3a3a">10&#8309;</text>
<text x="99.60" y="446.70" font-size="8.2" text-anchor="middle" fill="#111">hCD45</text>
<text x="64.90" y="407.95" font-size="8.3" text-anchor="middle" transform="rotate(-90 64.90 407.95)" fill="#111">mCD45</text>
<rect x="150.80" y="377.90" width="57.00" height="56.30" fill="#fff" stroke="#6e6e6e" stroke-width="0.9"/>
<line x1="149.90" y1="380.90" x2="149.90" y2="434.20" stroke="#777" stroke-width="0.9" stroke-dasharray="0.45 1.35"/>
<line x1="150.80" y1="435.10" x2="205.80" y2="435.10" stroke="#777" stroke-width="0.9" stroke-dasharray="0.45 1.35"/>
<line x1="149.20" y1="428.50" x2="150.80" y2="428.50" stroke="#555" stroke-width="0.6"/>
<text x="148.80" y="429.50" font-size="3.0" text-anchor="end" fill="#3a3a3a">0</text>
<line x1="149.20" y1="422.00" x2="150.80" y2="422.00" stroke="#555" stroke-width="0.6"/>
<text x="148.80" y="423.00" font-size="3.0" text-anchor="end" fill="#3a3a3a">10&#178;</text>
<line x1="149.20" y1="408.70" x2="150.80" y2="408.70" stroke="#555" stroke-width="0.6"/>
<text x="148.80" y="409.70" font-size="3.0" text-anchor="end" fill="#3a3a3a">10&#179;</text>
<line x1="149.20" y1="395.40" x2="150.80" y2="395.40" stroke="#555" stroke-width="0.6"/>
<text x="148.80" y="396.40" font-size="3.0" text-anchor="end" fill="#3a3a3a">10&#8308;</text>
<line x1="149.20" y1="383.20" x2="150.80" y2="383.20" stroke="#555" stroke-width="0.6"/>
<text x="148.80" y="384.20" font-size="3.0" text-anchor="end" fill="#3a3a3a">10&#8309;</text>
<line x1="151.00" y1="434.20" x2="151.00" y2="435.80" stroke="#555" stroke-width="0.6"/>
<text x="151.00" y="438.60" font-size="2.9" text-anchor="middle" fill="#3a3a3a">0</text>
<line x1="161.80" y1="434.20" x2="161.80" y2="435.80" stroke="#555" stroke-width="0.6"/>
<text x="161.80" y="438.60" font-size="2.9" text-anchor="middle" fill="#3a3a3a">50K</text>
<line x1="172.60" y1="434.20" x2="172.60" y2="435.80" stroke="#555" stroke-width="0.6"/>
<text x="172.60" y="438.60" font-size="2.9" text-anchor="middle" fill="#3a3a3a">100K</text>
<line x1="183.40" y1="434.20" x2="183.40" y2="435.80" stroke="#555" stroke-width="0.6"/>
<text x="183.40" y="438.60" font-size="2.9" text-anchor="middle" fill="#3a3a3a">150K</text>
<line x1="194.20" y1="434.20" x2="194.20" y2="435.80" stroke="#555" stroke-width="0.6"/>
<text x="194.20" y="438.60" font-size="2.9" text-anchor="middle" fill="#3a3a3a">200K</text>
<line x1="205.00" y1="434.20" x2="205.00" y2="435.80" stroke="#555" stroke-width="0.6"/>
<text x="205.00" y="438.60" font-size="2.9" text-anchor="middle" fill="#3a3a3a">250K</text>
<text x="178.00" y="446.00" font-size="8.5" text-anchor="middle" fill="#111">SSC</text>
<text x="143.80" y="408.45" font-size="8.3" text-anchor="middle" transform="rotate(-90 143.80 408.45)" fill="#111">CD3</text>
<text x="25.30" y="483.00" font-size="11.2" text-anchor="middle" fill="#111">ATG</text>
<rect x="73.30" y="452.40" width="57.00" height="55.80" fill="#fff" stroke="#6e6e6e" stroke-width="0.9"/>
<line x1="72.40" y1="455.40" x2="72.40" y2="508.20" stroke="#777" stroke-width="0.9" stroke-dasharray="0.45 1.35"/>
<line x1="73.30" y1="509.10" x2="128.30" y2="509.10" stroke="#777" stroke-width="0.9" stroke-dasharray="0.45 1.35"/>
<line x1="71.70" y1="502.50" x2="73.30" y2="502.50" stroke="#555" stroke-width="0.6"/>
<text x="71.30" y="503.50" font-size="3.0" text-anchor="end" fill="#3a3a3a">0</text>
<line x1="71.70" y1="496.00" x2="73.30" y2="496.00" stroke="#555" stroke-width="0.6"/>
<text x="71.30" y="497.00" font-size="3.0" text-anchor="end" fill="#3a3a3a">10&#178;</text>
<line x1="71.70" y1="482.70" x2="73.30" y2="482.70" stroke="#555" stroke-width="0.6"/>
<text x="71.30" y="483.70" font-size="3.0" text-anchor="end" fill="#3a3a3a">10&#179;</text>
<line x1="71.70" y1="469.40" x2="73.30" y2="469.40" stroke="#555" stroke-width="0.6"/>
<text x="71.30" y="470.40" font-size="3.0" text-anchor="end" fill="#3a3a3a">10&#8308;</text>
<line x1="71.70" y1="457.20" x2="73.30" y2="457.20" stroke="#555" stroke-width="0.6"/>
<text x="71.30" y="458.20" font-size="3.0" text-anchor="end" fill="#3a3a3a">10&#8309;</text>
<line x1="79.80" y1="508.20" x2="79.80" y2="509.80" stroke="#555" stroke-width="0.6"/>
<text x="79.80" y="512.60" font-size="3.0" text-anchor="middle" fill="#3a3a3a">0</text>
<line x1="85.20" y1="508.20" x2="85.20" y2="509.80" stroke="#555" stroke-width="0.6"/>
<text x="85.20" y="512.60" font-size="3.0" text-anchor="middle" fill="#3a3a3a">10&#178;</text>
<line x1="98.60" y1="508.20" x2="98.60" y2="509.80" stroke="#555" stroke-width="0.6"/>
<text x="98.60" y="512.60" font-size="3.0" text-anchor="middle" fill="#3a3a3a">10&#179;</text>
<line x1="112.80" y1="508.20" x2="112.80" y2="509.80" stroke="#555" stroke-width="0.6"/>
<text x="112.80" y="512.60" font-size="3.0" text-anchor="middle" fill="#3a3a3a">10&#8308;</text>
<line x1="124.20" y1="508.20" x2="124.20" y2="509.80" stroke="#555" stroke-width="0.6"/>
<text x="124.20" y="512.60" font-size="3.0" text-anchor="middle" fill="#3a3a3a">10&#8309;</text>
<text x="99.60" y="521.10" font-size="8.2" text-anchor="middle" fill="#111">hCD45</text>
<text x="64.90" y="482.70" font-size="8.3" text-anchor="middle" transform="rotate(-90 64.90 482.70)" fill="#111">mCD45</text>
<rect x="150.80" y="452.20" width="57.00" height="56.30" fill="#fff" stroke="#6e6e6e" stroke-width="0.9"/>
<line x1="149.90" y1="455.20" x2="149.90" y2="508.50" stroke="#777" stroke-width="0.9" stroke-dasharray="0.45 1.35"/>
<line x1="150.80" y1="509.40" x2="205.80" y2="509.40" stroke="#777" stroke-width="0.9" stroke-dasharray="0.45 1.35"/>
<line x1="149.20" y1="502.80" x2="150.80" y2="502.80" stroke="#555" stroke-width="0.6"/>
<text x="148.80" y="503.80" font-size="3.0" text-anchor="end" fill="#3a3a3a">0</text>
<line x1="149.20" y1="496.30" x2="150.80" y2="496.30" stroke="#555" stroke-width="0.6"/>
<text x="148.80" y="497.30" font-size="3.0" text-anchor="end" fill="#3a3a3a">10&#178;</text>
<line x1="149.20" y1="483.00" x2="150.80" y2="483.00" stroke="#555" stroke-width="0.6"/>
<text x="148.80" y="484.00" font-size="3.0" text-anchor="end" fill="#3a3a3a">10&#179;</text>
<line x1="149.20" y1="469.70" x2="150.80" y2="469.70" stroke="#555" stroke-width="0.6"/>
<text x="148.80" y="470.70" font-size="3.0" text-anchor="end" fill="#3a3a3a">10&#8308;</text>
<line x1="149.20" y1="457.50" x2="150.80" y2="457.50" stroke="#555" stroke-width="0.6"/>
<text x="148.80" y="458.50" font-size="3.0" text-anchor="end" fill="#3a3a3a">10&#8309;</text>
<line x1="151.00" y1="508.50" x2="151.00" y2="510.10" stroke="#555" stroke-width="0.6"/>
<text x="151.00" y="512.90" font-size="2.9" text-anchor="middle" fill="#3a3a3a">0</text>
<line x1="161.80" y1="508.50" x2="161.80" y2="510.10" stroke="#555" stroke-width="0.6"/>
<text x="161.80" y="512.90" font-size="2.9" text-anchor="middle" fill="#3a3a3a">50K</text>
<line x1="172.60" y1="508.50" x2="172.60" y2="510.10" stroke="#555" stroke-width="0.6"/>
<text x="172.60" y="512.90" font-size="2.9" text-anchor="middle" fill="#3a3a3a">100K</text>
<line x1="183.40" y1="508.50" x2="183.40" y2="510.10" stroke="#555" stroke-width="0.6"/>
<text x="183.40" y="512.90" font-size="2.9" text-anchor="middle" fill="#3a3a3a">150K</text>
<line x1="194.20" y1="508.50" x2="194.20" y2="510.10" stroke="#555" stroke-width="0.6"/>
<text x="194.20" y="512.90" font-size="2.9" text-anchor="middle" fill="#3a3a3a">200K</text>
<line x1="205.00" y1="508.50" x2="205.00" y2="510.10" stroke="#555" stroke-width="0.6"/>
<text x="205.00" y="512.90" font-size="2.9" text-anchor="middle" fill="#3a3a3a">250K</text>
<text x="178.00" y="520.30" font-size="8.5" text-anchor="middle" fill="#111">SSC</text>
<text x="143.80" y="482.75" font-size="8.3" text-anchor="middle" transform="rotate(-90 143.80 482.75)" fill="#111">CD3</text>
<text x="24.00" y="560.70" font-size="11.2" text-anchor="middle" fill="#111">OKT3</text>
<rect x="73.30" y="527.90" width="57.00" height="55.70" fill="#fff" stroke="#6e6e6e" stroke-width="0.9"/>
<line x1="72.40" y1="530.90" x2="72.40" y2="583.60" stroke="#777" stroke-width="0.9" stroke-dasharray="0.45 1.35"/>
<line x1="73.30" y1="584.50" x2="128.30" y2="584.50" stroke="#777" stroke-width="0.9" stroke-dasharray="0.45 1.35"/>
<line x1="71.70" y1="577.90" x2="73.30" y2="577.90" stroke="#555" stroke-width="0.6"/>
<text x="71.30" y="578.90" font-size="3.0" text-anchor="end" fill="#3a3a3a">0</text>
<line x1="71.70" y1="571.40" x2="73.30" y2="571.40" stroke="#555" stroke-width="0.6"/>
<text x="71.30" y="572.40" font-size="3.0" text-anchor="end" fill="#3a3a3a">10&#178;</text>
<line x1="71.70" y1="558.10" x2="73.30" y2="558.10" stroke="#555" stroke-width="0.6"/>
<text x="71.30" y="559.10" font-size="3.0" text-anchor="end" fill="#3a3a3a">10&#179;</text>
<line x1="71.70" y1="544.80" x2="73.30" y2="544.80" stroke="#555" stroke-width="0.6"/>
<text x="71.30" y="545.80" font-size="3.0" text-anchor="end" fill="#3a3a3a">10&#8308;</text>
<line x1="71.70" y1="532.60" x2="73.30" y2="532.60" stroke="#555" stroke-width="0.6"/>
<text x="71.30" y="533.60" font-size="3.0" text-anchor="end" fill="#3a3a3a">10&#8309;</text>
<line x1="79.80" y1="583.60" x2="79.80" y2="585.20" stroke="#555" stroke-width="0.6"/>
<text x="79.80" y="588.00" font-size="3.0" text-anchor="middle" fill="#3a3a3a">0</text>
<line x1="85.20" y1="583.60" x2="85.20" y2="585.20" stroke="#555" stroke-width="0.6"/>
<text x="85.20" y="588.00" font-size="3.0" text-anchor="middle" fill="#3a3a3a">10&#178;</text>
<line x1="98.60" y1="583.60" x2="98.60" y2="585.20" stroke="#555" stroke-width="0.6"/>
<text x="98.60" y="588.00" font-size="3.0" text-anchor="middle" fill="#3a3a3a">10&#179;</text>
<line x1="112.80" y1="583.60" x2="112.80" y2="585.20" stroke="#555" stroke-width="0.6"/>
<text x="112.80" y="588.00" font-size="3.0" text-anchor="middle" fill="#3a3a3a">10&#8308;</text>
<line x1="124.20" y1="583.60" x2="124.20" y2="585.20" stroke="#555" stroke-width="0.6"/>
<text x="124.20" y="588.00" font-size="3.0" text-anchor="middle" fill="#3a3a3a">10&#8309;</text>
<text x="99.60" y="595.90" font-size="8.2" text-anchor="middle" fill="#111">hCD45</text>
<text x="64.90" y="558.15" font-size="8.3" text-anchor="middle" transform="rotate(-90 64.90 558.15)" fill="#111">mCD45</text>
<rect x="150.80" y="527.50" width="57.00" height="56.00" fill="#fff" stroke="#6e6e6e" stroke-width="0.9"/>
<line x1="149.90" y1="530.50" x2="149.90" y2="583.50" stroke="#777" stroke-width="0.9" stroke-dasharray="0.45 1.35"/>
<line x1="150.80" y1="584.40" x2="205.80" y2="584.40" stroke="#777" stroke-width="0.9" stroke-dasharray="0.45 1.35"/>
<line x1="149.20" y1="577.80" x2="150.80" y2="577.80" stroke="#555" stroke-width="0.6"/>
<text x="148.80" y="578.80" font-size="3.0" text-anchor="end" fill="#3a3a3a">0</text>
<line x1="149.20" y1="571.30" x2="150.80" y2="571.30" stroke="#555" stroke-width="0.6"/>
<text x="148.80" y="572.30" font-size="3.0" text-anchor="end" fill="#3a3a3a">10&#178;</text>
<line x1="149.20" y1="558.00" x2="150.80" y2="558.00" stroke="#555" stroke-width="0.6"/>
<text x="148.80" y="559.00" font-size="3.0" text-anchor="end" fill="#3a3a3a">10&#179;</text>
<line x1="149.20" y1="544.70" x2="150.80" y2="544.70" stroke="#555" stroke-width="0.6"/>
<text x="148.80" y="545.70" font-size="3.0" text-anchor="end" fill="#3a3a3a">10&#8308;</text>
<line x1="149.20" y1="532.50" x2="150.80" y2="532.50" stroke="#555" stroke-width="0.6"/>
<text x="148.80" y="533.50" font-size="3.0" text-anchor="end" fill="#3a3a3a">10&#8309;</text>
<line x1="151.00" y1="583.50" x2="151.00" y2="585.10" stroke="#555" stroke-width="0.6"/>
<text x="151.00" y="587.90" font-size="2.9" text-anchor="middle" fill="#3a3a3a">0</text>
<line x1="161.80" y1="583.50" x2="161.80" y2="585.10" stroke="#555" stroke-width="0.6"/>
<text x="161.80" y="587.90" font-size="2.9" text-anchor="middle" fill="#3a3a3a">50K</text>
<line x1="172.60" y1="583.50" x2="172.60" y2="585.10" stroke="#555" stroke-width="0.6"/>
<text x="172.60" y="587.90" font-size="2.9" text-anchor="middle" fill="#3a3a3a">100K</text>
<line x1="183.40" y1="583.50" x2="183.40" y2="585.10" stroke="#555" stroke-width="0.6"/>
<text x="183.40" y="587.90" font-size="2.9" text-anchor="middle" fill="#3a3a3a">150K</text>
<line x1="194.20" y1="583.50" x2="194.20" y2="585.10" stroke="#555" stroke-width="0.6"/>
<text x="194.20" y="587.90" font-size="2.9" text-anchor="middle" fill="#3a3a3a">200K</text>
<line x1="205.00" y1="583.50" x2="205.00" y2="585.10" stroke="#555" stroke-width="0.6"/>
<text x="205.00" y="587.90" font-size="2.9" text-anchor="middle" fill="#3a3a3a">250K</text>
<text x="178.00" y="595.30" font-size="8.5" text-anchor="middle" fill="#111">SSC</text>
<text x="143.80" y="557.90" font-size="8.3" text-anchor="middle" transform="rotate(-90 143.80 557.90)" fill="#111">CD3</text>
<path d="M79.8 394.8h.01M80.0 392.0h.01M76.7 392.4h.01M86.1 394.5h.01M85.8 393.9h.01M82.8 393.7h.01M83.3 394.8h.01M76.9 391.5h.01M82.4 392.9h.01M83.4 390.9h.01M82.4 394.4h.01M78.0 398.9h.01M83.6 397.2h.01M78.1 390.6h.01M79.4 392.7h.01M83.9 393.9h.01M78.9 389.8h.01M78.6 397.3h.01M77.3 393.9h.01M83.0 388.0h.01M81.2 397.5h.01M80.5 390.3h.01M83.3 392.9h.01M74.3 395.9h.01M84.1 396.3h.01M87.6 394.3h.01M81.5 388.7h.01M83.8 391.0h.01M78.9 388.8h.01M76.5 391.3h.01M86.9 386.2h.01M74.3 393.9h.01M87.6 395.1h.01M82.6 390.6h.01M75.8 396.4h.01M86.1 393.6h.01M82.1 394.6h.01M88.3 395.2h.01M83.4 395.0h.01M85.4 394.9h.01M84.9 386.9h.01M80.2 396.6h.01M75.0 398.6h.01M83.5 392.6h.01M82.5 395.3h.01M81.6 397.0h.01M78.0 391.7h.01M85.8 393.2h.01M76.9 396.3h.01M87.7 391.6h.01M74.7 392.6h.01M80.3 392.1h.01M87.5 389.6h.01M86.8 388.8h.01M77.4 395.2h.01M86.2 396.0h.01M82.6 393.6h.01M81.7 395.1h.01M80.2 394.0h.01M83.6 393.1h.01M84.5 395.0h.01M90.2 394.2h.01M79.0 391.8h.01M80.9 396.2h.01M79.5 394.4h.01M89.5 384.4h.01M75.8 393.9h.01M82.8 393.9h.01M79.0 395.3h.01M82.3 391.3h.01M92.2 394.3h.01M78.5 392.8h.01M80.0 392.9h.01M85.6 389.1h.01M80.7 396.3h.01M84.9 398.2h.01M79.4 395.2h.01M86.0 384.0h.01M86.0 388.2h.01M84.1 388.0h.01M81.8 397.2h.01M80.3 393.7h.01M84.7 393.6h.01M80.6 398.3h.01M85.8 392.1h.01M93.6 389.2h.01M85.2 392.2h.01M81.6 395.5h.01M82.0 395.3h.01M83.8 389.8h.01M76.3 388.1h.01M86.8 395.6h.01M87.8 389.9h.01M81.0 389.2h.01M84.5 398.5h.01M76.9 398.4h.01M85.5 392.5h.01M80.6 391.1h.01M82.8 394.5h.01M87.9 389.6h.01M86.2 398.2h.01M87.7 392.5h.01M77.6 396.6h.01M81.5 393.5h.01M87.6 392.2h.01M82.5 391.0h.01M81.0 395.9h.01M81.4 397.6h.01M80.7 396.6h.01M87.9 398.6h.01M77.9 396.1h.01M75.3 393.1h.01M80.1 393.0h.01M78.3 393.9h.01M89.2 393.3h.01M83.4 396.5h.01M80.1 388.8h.01M78.4 396.8h.01M85.6 395.8h.01M81.0 395.8h.01M81.8 389.1h.01M85.2 391.2h.01M76.8 390.5h.01M75.6 394.3h.01M78.0 386.5h.01M84.3 392.2h.01M82.3 391.5h.01M84.6 395.6h.01M84.1 394.2h.01M87.1 395.3h.01M83.1 386.0h.01M85.1 397.6h.01M79.6 391.5h.01M89.9 387.1h.01M83.2 401.3h.01M76.7 395.4h.01M89.7 392.7h.01M83.6 396.2h.01M76.8 392.8h.01M82.3 395.9h.01M80.8 392.4h.01M76.3 391.9h.01M85.1 393.4h.01M77.1 390.2h.01M93.3 397.0h.01M83.9 384.3h.01M83.9 394.7h.01M88.7 394.6h.01M80.7 394.9h.01M82.5 390.7h.01" stroke="#6a6a6a" stroke-width="0.8" stroke-linecap="round" fill="none"/>
<path d="M82.0 396.6h.01M75.4 391.1h.01M79.5 393.0h.01M77.8 390.5h.01M83.9 394.9h.01M75.9 389.6h.01M82.9 394.8h.01M83.2 394.4h.01M76.7 393.2h.01M78.7 393.8h.01M77.1 392.3h.01M79.9 393.4h.01M80.3 393.1h.01M78.0 394.3h.01M78.9 390.8h.01M77.3 392.6h.01M78.5 392.9h.01M78.8 393.0h.01M78.5 389.8h.01M79.8 394.9h.01M79.8 392.2h.01M79.9 390.5h.01M74.2 392.7h.01M76.6 394.2h.01M76.2 386.8h.01M76.3 396.1h.01M77.9 389.6h.01M77.0 393.7h.01M80.0 393.0h.01M82.4 394.2h.01M78.7 393.9h.01M82.8 394.7h.01M81.3 390.2h.01M78.4 394.2h.01M78.1 395.0h.01M80.2 394.6h.01M78.3 398.2h.01M81.8 392.1h.01M79.0 398.3h.01M78.0 394.5h.01M81.2 392.6h.01M76.0 393.0h.01M79.7 395.1h.01M80.7 392.7h.01M80.8 393.8h.01" stroke="#2e2e2e" stroke-width="0.84" stroke-linecap="round" fill="none"/>
<path d="M87.2 420.0h.01M84.6 424.1h.01M80.1 415.5h.01M86.0 410.1h.01M83.6 406.5h.01M82.2 423.3h.01M89.2 419.2h.01M84.7 410.4h.01M96.2 423.0h.01M92.1 413.9h.01M85.0 407.8h.01M90.4 425.7h.01M75.4 419.3h.01M89.5 408.1h.01M75.8 412.7h.01M82.5 410.5h.01M86.2 421.2h.01M89.6 424.2h.01M94.4 427.2h.01M78.7 416.3h.01M80.1 412.6h.01M85.5 419.6h.01M88.7 409.3h.01M79.1 419.4h.01M84.9 417.6h.01M85.6 414.7h.01M89.9 421.9h.01M85.5 415.2h.01M85.0 401.9h.01M80.5 419.8h.01M77.6 420.9h.01M86.8 410.6h.01M84.6 417.6h.01M88.6 423.6h.01M85.8 414.1h.01M85.2 419.2h.01M90.1 421.5h.01M82.0 410.8h.01M83.9 414.8h.01M79.8 418.8h.01M83.3 420.3h.01M88.9 416.9h.01M99.0 417.5h.01M92.2 420.4h.01M92.3 404.2h.01M81.8 421.2h.01M87.8 427.9h.01M90.3 425.8h.01M88.9 418.6h.01M88.9 412.6h.01M92.6 413.0h.01M84.7 419.7h.01M92.5 419.8h.01M81.5 421.3h.01M89.3 424.2h.01M81.7 431.0h.01M95.3 419.7h.01M87.5 416.8h.01M93.9 415.0h.01M89.8 416.5h.01M82.1 424.3h.01M93.5 419.5h.01M82.2 424.9h.01M85.7 421.6h.01M94.5 427.0h.01M86.0 424.7h.01M82.4 419.3h.01M76.2 431.2h.01M93.6 411.7h.01M77.6 409.1h.01M92.6 416.6h.01M85.7 417.6h.01M85.3 412.5h.01M86.1 410.3h.01M85.6 421.6h.01M88.6 418.1h.01M80.9 420.6h.01M83.3 429.8h.01M90.3 418.9h.01M83.4 415.0h.01M80.8 417.3h.01M87.7 423.0h.01M82.1 419.7h.01M101.6 407.5h.01M83.1 420.7h.01M86.9 422.3h.01M84.7 422.0h.01M86.3 424.6h.01M75.4 413.8h.01M86.0 412.9h.01M80.1 423.7h.01M82.4 423.7h.01M90.2 421.6h.01M88.8 418.9h.01M78.1 419.4h.01M88.5 416.2h.01M85.4 424.5h.01M81.1 423.8h.01M96.4 416.0h.01M86.8 418.6h.01M94.6 421.7h.01M91.0 415.1h.01M85.9 419.5h.01M76.1 429.0h.01M91.0 408.2h.01M90.2 418.7h.01M88.5 422.0h.01M77.6 418.2h.01M94.4 415.9h.01M80.3 410.8h.01M79.2 421.8h.01M95.5 422.4h.01M83.1 415.2h.01M89.0 423.2h.01M80.3 412.0h.01M87.6 421.2h.01M78.7 418.3h.01M83.0 422.6h.01M85.3 419.0h.01M84.0 426.4h.01M93.8 417.2h.01M90.7 414.7h.01M86.4 424.5h.01M94.5 417.1h.01M85.6 420.9h.01M77.6 419.7h.01M82.2 422.0h.01M79.7 406.8h.01M86.2 421.3h.01M82.9 425.4h.01M84.5 415.7h.01M88.7 409.4h.01M82.2 419.5h.01M90.8 418.5h.01M87.7 415.3h.01M87.7 430.4h.01M82.4 419.7h.01M87.0 426.3h.01M79.1 405.9h.01M89.4 424.8h.01M87.1 421.3h.01M91.2 422.0h.01M95.3 411.6h.01M83.9 397.2h.01M90.5 417.2h.01M86.0 417.9h.01M83.2 414.2h.01M82.5 423.8h.01M86.2 420.0h.01M85.0 425.5h.01M88.8 418.7h.01M89.7 418.6h.01M79.5 429.1h.01M88.6 413.4h.01M92.0 421.8h.01M77.2 430.1h.01M87.9 425.4h.01M87.1 418.6h.01M77.3 425.9h.01M86.2 417.7h.01M88.0 420.1h.01M89.8 417.2h.01M85.8 405.7h.01M83.6 424.0h.01M93.5 417.2h.01M85.3 429.9h.01M84.2 424.4h.01M95.4 419.9h.01M92.9 415.0h.01M87.2 419.1h.01M86.6 426.9h.01M99.4 415.3h.01M82.8 422.8h.01M80.1 422.8h.01M89.2 417.8h.01M89.0 409.5h.01M90.3 409.6h.01M82.1 416.0h.01M83.8 425.2h.01M86.5 417.0h.01M89.0 429.9h.01M86.0 422.0h.01M92.9 421.3h.01M98.4 406.7h.01M85.8 422.3h.01M91.4 423.9h.01M84.5 412.8h.01M86.6 426.3h.01M79.9 412.9h.01M85.9 407.0h.01M84.5 416.8h.01M88.5 415.0h.01M81.1 417.0h.01M85.7 415.3h.01M86.1 424.5h.01M92.6 430.7h.01M81.6 416.9h.01M81.9 419.4h.01M88.9 410.8h.01M88.6 419.4h.01" stroke="#888" stroke-width="0.72" stroke-linecap="round" fill="none"/>
<path d="M78.5 419.8h.01M87.6 411.1h.01M86.4 419.4h.01M85.4 420.4h.01M87.9 417.7h.01M86.6 417.0h.01M86.2 415.3h.01M83.7 425.5h.01M85.3 418.0h.01M80.6 415.4h.01M84.6 422.4h.01M85.3 420.7h.01M83.9 424.0h.01M82.8 416.4h.01M86.7 418.9h.01M83.2 416.3h.01M83.2 421.1h.01M85.1 413.8h.01M85.3 419.3h.01M81.0 421.7h.01M83.2 417.3h.01M86.4 423.9h.01M81.9 420.4h.01M81.4 427.9h.01M82.5 423.4h.01M82.1 421.8h.01M90.7 408.4h.01M82.7 420.6h.01" stroke="#555" stroke-width="0.72" stroke-linecap="round" fill="none"/>
<path d="M112.6 411.9h.01M121.6 418.3h.01M106.4 424.9h.01M106.1 427.4h.01M110.7 418.8h.01M118.0 418.6h.01M107.4 403.2h.01M117.7 423.9h.01M109.7 424.9h.01M115.0 423.1h.01M104.0 415.0h.01M116.6 423.8h.01M116.5 396.7h.01M113.7 421.8h.01M123.2 409.5h.01M111.7 417.9h.01M116.5 413.8h.01M117.6 410.9h.01M114.1 413.1h.01M113.6 411.7h.01M106.6 426.9h.01M114.2 412.9h.01M113.8 426.0h.01M109.1 416.7h.01M115.2 422.1h.01M111.7 399.7h.01M118.0 420.4h.01M113.1 415.2h.01M114.1 414.0h.01M108.9 411.3h.01M110.6 412.4h.01M108.4 423.0h.01M107.8 423.2h.01M108.9 420.6h.01M118.5 419.3h.01M110.1 418.0h.01M113.6 402.9h.01M110.6 419.0h.01M111.1 418.3h.01M115.9 424.1h.01M116.6 422.6h.01M111.8 417.4h.01M111.9 414.9h.01M112.3 402.9h.01M111.7 417.4h.01M109.1 417.4h.01M115.1 416.2h.01M121.3 395.4h.01M112.2 402.1h.01M103.0 418.7h.01M115.1 415.0h.01M115.2 398.5h.01M116.4 420.8h.01M113.1 412.6h.01M115.6 413.5h.01M113.9 413.3h.01M104.0 417.3h.01M113.8 424.0h.01M109.5 417.3h.01M115.5 418.8h.01M109.4 401.3h.01M116.4 430.6h.01M116.7 424.5h.01M110.5 411.5h.01M116.6 409.9h.01M105.7 409.1h.01M110.3 411.4h.01M113.9 411.2h.01M118.2 416.9h.01M108.7 428.7h.01" stroke="#8c8c8c" stroke-width="0.72" stroke-linecap="round" fill="none"/>
<path d="M98.3 395.4h.01M114.0 389.7h.01M117.9 398.7h.01M108.5 430.8h.01M105.8 416.7h.01M91.6 387.7h.01M77.1 394.2h.01M107.3 406.6h.01M102.0 426.9h.01M82.2 397.6h.01M109.3 388.6h.01M75.4 403.2h.01M80.8 403.3h.01M87.0 413.2h.01M105.9 396.6h.01M107.7 408.4h.01M82.3 428.7h.01M88.0 394.2h.01M80.3 415.6h.01M120.6 421.9h.01M96.2 399.2h.01M75.9 415.9h.01M104.5 403.0h.01M108.9 407.1h.01M124.0 419.8h.01" stroke="#aaa" stroke-width="0.66" stroke-linecap="round" fill="none"/>
<path d="M74.8 432.6h.01M75.7 432.6h.01M76.6 432.6h.01M77.5 432.6h.01M78.4 432.6h.01M79.3 432.6h.01M80.2 432.6h.01M81.1 432.6h.01M82.0 432.6h.01M82.9 432.6h.01M83.8 432.6h.01M84.7 432.6h.01" stroke="#444" stroke-width="0.8" stroke-linecap="round" fill="none"/>
<rect x="73.80" y="385.20" width="22.40" height="17.80" fill="none" stroke="#585858" stroke-width="0.8"/>
<text x="80.40" y="383.50" font-size="4.9" fill="#2a2a2a">60.2</text>
<rect x="100.30" y="403.40" width="24.20" height="30.10" fill="none" stroke="#585858" stroke-width="0.8"/>
<text x="118.80" y="400.80" font-size="4.9" fill="#2a2a2a">27.1</text>
<path d="M162.9 391.7h.01M168.2 386.1h.01M160.0 388.6h.01M170.3 386.2h.01M168.6 385.5h.01M165.2 385.8h.01M164.8 389.3h.01M156.2 388.6h.01M163.9 385.3h.01M161.4 389.1h.01M172.0 385.7h.01M164.3 383.0h.01M171.7 384.6h.01M162.6 384.4h.01M162.5 384.5h.01M163.1 387.9h.01M162.9 387.5h.01M158.9 391.2h.01M159.8 383.7h.01M161.9 385.4h.01M158.2 387.4h.01M164.1 383.9h.01M162.2 390.3h.01M165.9 385.7h.01M163.4 386.5h.01M162.6 388.6h.01M162.4 381.6h.01M162.7 384.9h.01M165.8 384.7h.01M163.5 391.6h.01M158.0 385.7h.01M156.3 383.3h.01M154.2 390.2h.01M159.9 383.5h.01M156.0 390.2h.01M159.2 387.1h.01M164.3 389.5h.01M171.7 386.7h.01M163.5 387.1h.01M171.1 387.8h.01M161.4 388.3h.01M164.1 386.6h.01M160.5 384.6h.01M160.3 384.1h.01M168.4 386.5h.01M157.3 391.6h.01M166.9 381.4h.01M171.3 386.3h.01M172.3 381.4h.01M165.2 387.2h.01M163.7 387.0h.01M167.6 382.2h.01M157.1 385.4h.01M160.2 386.3h.01M164.5 387.0h.01M162.9 385.3h.01M160.8 389.6h.01M166.3 386.1h.01M161.3 390.8h.01M160.1 389.1h.01M168.1 384.8h.01M166.6 383.3h.01M167.5 386.0h.01M155.5 390.5h.01M158.7 390.9h.01M159.7 387.4h.01M164.1 385.8h.01M164.0 385.3h.01M165.9 386.0h.01M163.8 380.4h.01M168.1 385.5h.01M154.6 389.4h.01M164.9 388.7h.01M157.8 391.8h.01M162.1 392.5h.01M162.1 388.6h.01M161.1 384.9h.01M167.8 387.5h.01M169.9 386.8h.01M160.2 383.9h.01M159.8 386.2h.01M159.1 389.3h.01M164.3 385.9h.01M163.6 386.3h.01M163.8 388.3h.01M167.2 384.1h.01M155.9 392.1h.01M163.3 389.2h.01M155.2 388.3h.01M162.9 383.6h.01M160.4 389.2h.01M167.8 389.1h.01M158.8 384.9h.01M165.2 388.3h.01M163.7 383.7h.01M166.4 387.7h.01M165.3 385.1h.01M164.2 388.3h.01M160.2 383.5h.01M164.3 387.6h.01M162.9 388.9h.01M160.1 387.5h.01M161.4 388.6h.01M170.1 384.3h.01M172.3 387.7h.01M166.4 387.2h.01M170.9 384.2h.01M162.3 384.7h.01M165.0 389.3h.01M165.2 387.2h.01M161.9 387.5h.01M156.2 391.1h.01M160.9 384.9h.01M159.3 386.0h.01M166.7 388.2h.01M156.6 390.8h.01M166.9 384.4h.01M156.0 387.2h.01M159.9 388.5h.01M161.2 382.8h.01" stroke="#555" stroke-width="0.8" stroke-linecap="round" fill="none"/>
<path d="M163.5 384.7h.01M165.5 384.5h.01M160.7 386.5h.01M161.2 389.1h.01M165.4 386.9h.01M163.8 384.6h.01M161.2 386.7h.01M159.9 388.5h.01M160.6 386.7h.01M159.7 385.3h.01M164.6 388.0h.01M163.3 385.5h.01M154.7 389.7h.01M166.4 386.1h.01M165.6 387.9h.01M166.2 385.3h.01M166.0 386.9h.01M158.2 387.9h.01M158.5 388.1h.01M164.5 385.0h.01M156.6 390.5h.01M163.9 388.4h.01M158.8 389.5h.01M169.0 387.5h.01M162.2 387.4h.01M162.3 388.3h.01M165.9 386.0h.01M158.7 389.2h.01M161.4 388.2h.01M163.6 388.7h.01M166.2 385.2h.01M163.8 388.8h.01M161.2 388.0h.01M166.4 387.4h.01M164.4 384.7h.01M159.0 388.4h.01M164.0 389.8h.01M160.2 389.2h.01M165.1 384.0h.01M160.3 387.9h.01" stroke="#222" stroke-width="0.84" stroke-linecap="round" fill="none"/>
<path d="M161.0 404.5h.01M166.8 398.6h.01M166.8 400.2h.01M160.7 410.7h.01M160.6 408.5h.01M173.6 406.1h.01M163.1 412.5h.01M161.8 415.6h.01M156.3 411.5h.01M160.9 398.7h.01M174.6 398.2h.01M174.5 411.8h.01M172.7 397.1h.01M171.2 419.0h.01M163.3 404.7h.01M178.7 407.5h.01M161.5 400.2h.01M166.7 408.9h.01M165.1 421.4h.01M162.0 410.2h.01M172.8 396.9h.01M170.2 422.4h.01M155.9 396.0h.01M157.8 389.3h.01M166.7 389.2h.01M167.0 419.0h.01M154.3 403.1h.01M152.5 412.9h.01M159.6 403.5h.01M164.3 410.8h.01M161.9 406.0h.01M160.7 406.9h.01M157.0 406.5h.01M152.4 401.5h.01M175.5 406.6h.01M156.4 408.2h.01M158.2 391.0h.01M159.6 412.5h.01M166.3 405.0h.01M158.4 396.2h.01M172.1 408.1h.01M158.3 386.9h.01M155.8 428.2h.01M157.1 405.2h.01M165.3 404.5h.01M162.3 393.5h.01M157.7 421.1h.01M159.5 413.5h.01M153.8 403.4h.01M165.6 415.2h.01" stroke="#b0b0b0" stroke-width="0.68" stroke-linecap="round" fill="none"/>
<path d="M174.8 408.8h.01M195.8 395.6h.01M195.8 401.2h.01M179.0 394.6h.01M179.1 429.9h.01M186.8 420.7h.01M170.0 396.8h.01M168.4 410.4h.01M185.8 420.3h.01M154.9 417.3h.01M198.9 408.3h.01M155.4 396.0h.01M153.1 390.5h.01M200.7 411.5h.01M187.0 420.6h.01M200.1 411.7h.01M184.9 412.4h.01M189.0 410.9h.01M188.2 391.6h.01M187.5 403.9h.01M192.5 386.0h.01M162.2 382.8h.01" stroke="#b5b5b5" stroke-width="0.66" stroke-linecap="round" fill="none"/>
<rect x="151.30" y="378.30" width="24.50" height="18.40" fill="none" stroke="#585858" stroke-width="0.8"/>
<text x="178.20" y="389.30" font-size="4.9" fill="#2a2a2a">93.7</text>
<path d="M80.8 464.7h.01M77.7 466.6h.01M82.4 466.6h.01M77.0 467.5h.01M78.4 470.7h.01M78.0 470.5h.01M74.3 463.2h.01M84.0 471.5h.01M81.4 469.9h.01M81.3 467.0h.01M83.0 469.0h.01M83.1 470.4h.01M83.7 470.1h.01M78.2 469.0h.01M78.1 467.3h.01M80.0 469.4h.01M85.1 471.0h.01M86.4 475.3h.01M85.8 473.4h.01M80.1 469.5h.01M79.1 467.2h.01M79.4 467.5h.01M85.5 472.2h.01M78.0 464.3h.01M79.4 468.0h.01M75.7 465.2h.01M79.4 474.5h.01M79.5 468.6h.01M84.8 471.1h.01M80.2 468.4h.01M77.4 471.5h.01M83.2 474.0h.01M78.3 468.6h.01M76.4 470.0h.01M74.6 468.5h.01M83.5 473.4h.01M76.2 470.2h.01M77.0 466.5h.01M74.8 469.8h.01M85.5 469.8h.01M76.9 467.3h.01M88.6 474.3h.01M77.6 464.4h.01M77.2 470.7h.01M86.3 470.8h.01M77.1 467.0h.01M75.7 469.9h.01M80.6 467.7h.01M82.4 470.0h.01M75.4 468.9h.01M82.6 465.9h.01M86.2 472.4h.01M82.3 465.9h.01M77.0 467.3h.01M83.5 467.2h.01M76.4 463.5h.01M78.7 469.4h.01M81.4 473.1h.01M82.0 469.2h.01M75.4 465.5h.01M77.2 468.5h.01M79.4 472.5h.01M80.6 467.0h.01M85.2 473.0h.01M80.0 467.6h.01M82.9 468.4h.01M74.8 467.8h.01M80.5 470.6h.01M82.0 472.9h.01M76.6 470.1h.01M76.0 469.3h.01M80.2 469.8h.01M83.1 470.2h.01M83.6 472.3h.01M80.1 467.9h.01M76.9 466.9h.01M78.9 468.7h.01M90.3 474.1h.01M82.4 468.1h.01M77.0 467.4h.01M80.3 467.0h.01M85.4 469.8h.01M83.5 465.3h.01M79.6 469.6h.01M80.3 470.5h.01M80.6 469.7h.01M80.7 469.0h.01M76.6 466.7h.01M86.2 475.1h.01M79.4 471.7h.01M77.9 466.5h.01M77.6 468.7h.01M90.5 471.4h.01M79.8 469.7h.01M79.5 471.0h.01M86.0 468.5h.01M80.2 468.6h.01M80.9 466.1h.01M81.5 470.1h.01M79.9 464.0h.01M78.3 466.9h.01M74.5 465.3h.01M82.1 471.1h.01M79.5 470.1h.01M77.4 468.4h.01M79.7 470.3h.01M79.3 468.6h.01M79.1 467.4h.01M87.6 472.9h.01M81.1 474.5h.01M84.7 467.4h.01M82.1 471.7h.01M86.4 474.2h.01M82.4 467.4h.01M76.5 468.5h.01M81.4 467.4h.01M78.2 467.7h.01M79.8 469.8h.01M78.6 466.0h.01M84.1 474.0h.01M79.2 471.1h.01M81.2 471.0h.01M81.3 467.9h.01M81.7 471.9h.01M76.4 472.1h.01M87.1 475.6h.01M86.8 473.1h.01M78.4 467.3h.01M76.7 468.2h.01M79.5 470.4h.01M87.8 471.8h.01M82.0 470.9h.01M80.6 468.9h.01M79.2 467.1h.01M80.2 469.2h.01M80.8 467.5h.01M79.7 469.2h.01M81.8 467.5h.01M81.1 471.7h.01M81.7 468.9h.01M77.8 467.9h.01M82.2 473.3h.01M79.0 467.4h.01M81.0 469.9h.01M76.3 466.3h.01M79.2 470.3h.01M75.3 465.3h.01M81.4 467.0h.01M80.0 469.9h.01M79.2 466.7h.01M79.4 468.2h.01M80.8 467.6h.01M83.5 466.7h.01M79.0 468.8h.01M83.1 468.9h.01M81.6 468.5h.01M82.3 473.7h.01M78.2 469.5h.01M76.3 469.9h.01M84.0 470.6h.01M75.5 468.5h.01M83.7 472.8h.01M82.5 466.1h.01M77.2 471.2h.01M75.2 469.9h.01M86.4 473.0h.01M83.6 469.7h.01M75.2 467.2h.01M78.9 468.6h.01M82.1 469.6h.01" stroke="#555" stroke-width="0.8" stroke-linecap="round" fill="none"/>
<path d="M77.6 468.9h.01M77.2 471.0h.01M78.2 468.6h.01M76.7 466.8h.01M80.2 469.5h.01M74.8 466.0h.01M76.9 467.1h.01M79.6 467.1h.01M78.3 468.7h.01M74.6 467.0h.01M77.0 468.7h.01M76.2 468.1h.01M78.9 470.5h.01M77.2 467.0h.01M79.6 465.6h.01M75.4 468.3h.01M78.6 466.9h.01M77.5 466.7h.01M77.3 469.5h.01M78.8 465.3h.01M78.9 465.8h.01M79.7 469.7h.01M82.2 469.1h.01M77.2 469.7h.01M75.8 466.2h.01M76.4 467.5h.01M74.8 467.8h.01M78.4 468.6h.01M80.9 469.1h.01M80.1 468.3h.01M78.9 465.5h.01M77.6 467.9h.01M76.1 466.5h.01M76.4 466.5h.01M76.0 466.6h.01M74.9 466.8h.01M78.9 468.3h.01M76.1 469.8h.01M79.3 470.4h.01M79.7 468.6h.01M76.9 469.7h.01M76.0 467.3h.01M78.0 469.0h.01M76.6 469.4h.01M76.8 469.0h.01M79.6 470.1h.01M78.8 466.8h.01M74.3 465.7h.01M78.2 470.9h.01M74.5 467.3h.01M75.3 466.0h.01M76.6 468.9h.01M77.7 470.1h.01M75.0 468.5h.01M79.2 469.0h.01M78.2 467.5h.01M74.8 466.3h.01M75.8 472.1h.01M76.1 470.3h.01M77.6 468.7h.01M78.8 467.4h.01M79.2 469.5h.01M78.4 469.3h.01M80.7 468.8h.01M78.3 469.7h.01M75.2 469.1h.01M78.3 466.7h.01M76.9 465.2h.01M77.4 466.2h.01M78.0 465.8h.01M78.2 468.0h.01M77.3 467.9h.01M77.5 465.9h.01M75.1 466.4h.01M78.1 465.1h.01M75.5 466.3h.01M74.9 467.5h.01M76.9 466.5h.01M75.0 468.4h.01M75.7 468.3h.01" stroke="#1e1e1e" stroke-width="0.88" stroke-linecap="round" fill="none"/>
<path d="M87.2 474.2h.01M79.6 489.4h.01M86.7 495.6h.01M89.0 497.7h.01M83.1 487.7h.01M88.9 486.0h.01M90.3 476.7h.01M88.3 488.0h.01M75.2 497.2h.01M86.6 489.6h.01M79.6 485.7h.01M92.6 482.8h.01M79.0 488.3h.01M83.0 482.1h.01M80.8 497.8h.01M77.8 505.1h.01M82.3 480.7h.01M88.9 493.9h.01M79.8 495.4h.01M75.8 482.0h.01M90.6 487.4h.01M78.5 493.5h.01M89.6 489.2h.01M76.0 486.6h.01M87.1 495.5h.01M94.3 487.4h.01M82.6 489.1h.01M91.0 481.9h.01M91.5 467.4h.01M89.0 484.0h.01M87.3 494.9h.01M79.1 488.7h.01M86.2 494.1h.01M80.3 481.5h.01M84.0 487.6h.01M77.5 496.8h.01M82.3 500.9h.01M89.3 489.6h.01M88.6 480.5h.01M83.4 484.8h.01M78.7 489.5h.01M84.3 500.9h.01M80.4 485.7h.01M87.1 492.6h.01M85.1 485.6h.01" stroke="#a8a8a8" stroke-width="0.68" stroke-linecap="round" fill="none"/>
<path d="M74.8 507.3h.01M75.8 507.3h.01M76.8 507.3h.01M77.8 507.3h.01M78.8 507.3h.01M79.8 507.3h.01M80.8 507.3h.01M81.8 507.3h.01" stroke="#555" stroke-width="0.8" stroke-linecap="round" fill="none"/>
<rect x="73.80" y="459.20" width="22.40" height="18.40" fill="none" stroke="#585858" stroke-width="0.8"/>
<text x="80.40" y="457.90" font-size="4.9" fill="#2a2a2a">96.0</text>
<rect x="100.30" y="478.00" width="24.20" height="30.20" fill="none" stroke="#585858" stroke-width="0.8"/>
<text x="120.90" y="475.00" font-size="4.9" fill="#2a2a2a">0.0</text>
<path d="M178.9 462.0h.01" stroke="#333" stroke-width="1.1" stroke-linecap="round" fill="none"/>
<rect x="151.30" y="452.50" width="24.50" height="18.50" fill="none" stroke="#585858" stroke-width="0.8"/>
<path d="M82.6 545.3h.01M75.1 540.3h.01M81.2 544.4h.01M81.1 542.2h.01M79.8 541.9h.01M82.1 546.0h.01M87.6 548.4h.01M77.4 542.4h.01M76.8 544.0h.01M88.5 547.4h.01M75.4 544.2h.01M80.6 544.8h.01M87.7 543.7h.01M77.2 547.8h.01M82.0 542.6h.01M80.8 546.4h.01M80.0 542.4h.01M77.6 547.8h.01M80.7 545.5h.01M79.0 544.9h.01M83.9 544.5h.01M78.8 543.3h.01M76.7 542.8h.01M79.4 544.3h.01M85.9 548.2h.01M78.8 545.1h.01M81.8 546.1h.01M80.7 544.7h.01M78.7 541.9h.01M84.1 547.8h.01M83.2 545.6h.01M81.7 543.3h.01M81.4 543.0h.01M76.7 546.2h.01M83.2 550.0h.01M77.7 543.4h.01M78.6 544.0h.01M79.8 542.2h.01M84.9 543.2h.01M78.6 544.9h.01M78.4 542.7h.01M82.0 543.6h.01M75.6 542.8h.01M79.7 547.7h.01M76.2 545.4h.01M77.5 542.6h.01M79.3 544.4h.01M84.1 548.8h.01M78.1 546.6h.01M84.6 546.8h.01M77.6 545.5h.01M80.2 544.8h.01M79.5 545.4h.01M85.1 547.6h.01M79.8 546.2h.01M86.4 543.2h.01M86.5 542.3h.01M82.8 545.9h.01M86.5 546.0h.01M78.7 541.9h.01M75.6 544.8h.01M79.7 542.3h.01M82.7 542.8h.01M78.9 542.7h.01M87.2 548.8h.01M80.0 540.4h.01M81.7 544.5h.01M82.0 545.7h.01M79.3 545.9h.01M83.9 545.3h.01M79.0 542.7h.01M83.4 542.2h.01M80.0 542.3h.01M75.0 544.3h.01M80.5 544.2h.01M84.1 541.5h.01M80.3 544.7h.01M83.9 542.4h.01M83.5 545.2h.01M86.0 547.8h.01M82.8 549.4h.01M80.6 543.1h.01M79.2 541.7h.01M80.5 539.9h.01M80.3 545.0h.01M84.6 544.2h.01M86.2 543.8h.01M80.1 539.8h.01M77.6 541.7h.01M86.4 546.5h.01M76.3 544.4h.01M82.5 544.0h.01M80.7 543.4h.01M78.5 539.8h.01M80.2 546.8h.01M86.2 544.7h.01M77.7 543.0h.01M84.1 545.6h.01M78.3 544.4h.01M79.8 545.1h.01M79.0 540.5h.01M80.8 545.8h.01M76.3 543.0h.01M84.0 544.0h.01M78.1 548.0h.01M83.8 547.0h.01M76.9 546.9h.01M74.1 541.6h.01M83.5 547.6h.01M77.0 541.9h.01M81.4 540.0h.01M83.1 545.8h.01M78.9 544.9h.01M83.6 545.4h.01M82.6 547.8h.01M78.7 544.1h.01M78.6 545.9h.01M79.0 544.8h.01M81.1 544.4h.01M87.3 545.3h.01M86.1 547.1h.01M85.7 544.8h.01M84.2 546.5h.01M78.2 544.2h.01M80.1 543.9h.01M85.6 543.6h.01M78.9 542.3h.01M80.7 545.3h.01M87.4 546.2h.01M82.4 542.9h.01M82.8 547.5h.01M85.8 540.9h.01M84.0 548.3h.01M83.8 541.5h.01M79.4 545.1h.01M82.2 542.7h.01M77.2 545.5h.01M75.5 546.1h.01M80.7 544.8h.01M75.5 541.7h.01M83.3 541.5h.01M88.6 542.7h.01M75.9 543.2h.01M82.5 546.1h.01M79.2 543.4h.01M79.7 542.7h.01M81.6 544.6h.01M78.2 544.1h.01M80.5 543.9h.01M84.8 541.3h.01M81.6 542.0h.01M79.4 547.1h.01M76.4 543.0h.01M78.3 545.7h.01M76.8 539.7h.01M82.6 543.8h.01M79.4 546.2h.01M77.2 542.6h.01M81.2 545.1h.01M78.6 545.9h.01M89.2 545.0h.01M87.8 541.1h.01M86.0 544.5h.01M81.1 543.5h.01M78.2 540.8h.01M79.1 546.6h.01M85.0 544.3h.01M78.6 542.2h.01M76.0 547.0h.01M83.1 544.9h.01" stroke="#555" stroke-width="0.8" stroke-linecap="round" fill="none"/>
<path d="M76.5 541.8h.01M80.6 545.7h.01M75.4 544.6h.01M75.0 543.9h.01M75.4 542.5h.01M78.7 544.7h.01M79.9 543.1h.01M81.2 546.7h.01M77.6 544.4h.01M75.8 543.0h.01M74.6 543.0h.01M78.1 545.8h.01M79.8 545.5h.01M76.8 543.1h.01M76.8 543.8h.01M77.7 542.9h.01M81.4 544.6h.01M81.2 546.5h.01M76.5 544.0h.01M80.6 544.0h.01M77.8 542.9h.01M77.7 543.2h.01M77.8 545.3h.01M80.8 544.8h.01M78.1 545.1h.01M76.9 541.9h.01M80.2 543.0h.01M79.7 542.9h.01M81.8 543.3h.01M79.6 546.5h.01M75.4 545.3h.01M75.7 540.5h.01M79.3 545.2h.01M77.1 539.8h.01M77.5 543.2h.01M76.7 543.0h.01M81.7 547.2h.01M76.8 542.4h.01M78.5 545.5h.01M79.3 542.4h.01M78.0 544.0h.01M80.9 546.4h.01M78.8 545.9h.01M76.7 545.7h.01M76.6 544.0h.01M79.7 542.9h.01M76.0 540.6h.01M78.0 543.7h.01M76.8 544.2h.01M77.8 543.4h.01M79.4 546.8h.01M76.6 542.0h.01M76.2 543.4h.01M79.0 542.8h.01M79.9 542.8h.01M79.5 544.9h.01M78.7 547.2h.01M77.0 543.3h.01M78.7 545.3h.01M74.5 543.2h.01M75.9 544.2h.01M80.8 544.7h.01M77.4 543.9h.01M78.9 544.3h.01M76.7 542.3h.01M77.2 545.4h.01M77.4 545.6h.01M78.2 543.9h.01M80.5 542.6h.01M75.3 541.4h.01M76.3 544.3h.01M79.0 541.1h.01M81.0 543.8h.01M76.2 545.8h.01M77.4 541.8h.01M76.1 542.2h.01M75.3 542.5h.01M79.6 544.8h.01M74.4 547.0h.01M75.3 543.2h.01" stroke="#1e1e1e" stroke-width="0.88" stroke-linecap="round" fill="none"/>
<path d="M86.1 573.7h.01M84.5 571.4h.01M95.3 568.6h.01M81.2 570.4h.01M82.5 565.1h.01M86.8 570.5h.01M84.7 574.4h.01M85.1 557.9h.01M89.9 565.1h.01M91.4 562.9h.01M88.5 570.3h.01M81.1 578.7h.01M77.7 574.9h.01M90.8 571.7h.01M89.0 564.1h.01M86.0 569.6h.01M87.9 573.3h.01M85.1 562.5h.01M83.5 571.1h.01M78.7 558.3h.01M84.2 563.7h.01M84.8 547.5h.01M84.5 566.0h.01M89.4 552.7h.01M84.6 571.5h.01M88.2 577.1h.01M90.7 559.8h.01M88.8 565.3h.01M82.5 579.7h.01M83.2 561.3h.01M84.2 561.3h.01M90.5 570.8h.01M92.2 571.1h.01M83.3 576.0h.01M83.1 564.3h.01M85.3 568.2h.01M91.3 563.2h.01M87.6 567.7h.01M80.4 559.5h.01M85.0 571.0h.01M87.4 571.6h.01M86.2 564.4h.01M87.9 560.2h.01M80.0 565.3h.01M79.7 563.9h.01M82.7 563.6h.01M85.8 561.7h.01M84.1 554.7h.01M86.6 561.1h.01M87.8 546.1h.01M82.4 569.8h.01M75.2 565.1h.01M86.4 568.7h.01M79.4 569.7h.01M86.7 560.4h.01M89.3 567.5h.01M86.1 564.4h.01M88.4 568.7h.01M91.0 571.4h.01M83.3 566.2h.01M90.1 565.1h.01M87.7 571.9h.01M85.2 549.9h.01M86.6 569.6h.01M86.6 562.0h.01M91.4 566.9h.01M83.2 562.4h.01M87.6 559.5h.01M91.8 576.1h.01M92.1 572.5h.01M78.5 577.1h.01M91.5 571.7h.01M77.3 577.5h.01M92.1 564.1h.01M86.6 573.9h.01M85.6 576.4h.01M86.4 573.3h.01M86.4 556.4h.01M87.2 578.1h.01M91.1 581.2h.01" stroke="#a6a6a6" stroke-width="0.68" stroke-linecap="round" fill="none"/>
<path d="M113.4 564.3h.01M111.6 554.0h.01M110.8 575.9h.01M104.0 570.4h.01M114.4 579.2h.01M108.3 563.8h.01M104.9 561.0h.01M107.5 579.6h.01M113.0 565.1h.01M119.2 549.3h.01M111.3 570.6h.01M119.4 569.9h.01M114.9 579.5h.01M113.3 571.7h.01M110.9 565.7h.01M109.9 552.7h.01M112.4 568.6h.01M111.1 566.8h.01M108.9 568.7h.01M110.0 570.5h.01M122.4 572.0h.01M114.5 575.3h.01M114.0 575.3h.01M113.9 579.9h.01M115.0 579.4h.01M109.7 568.9h.01M108.9 576.4h.01M114.4 565.3h.01M115.8 560.2h.01M111.2 573.8h.01M111.4 571.9h.01M115.6 571.5h.01M107.7 574.5h.01M111.2 569.8h.01M109.5 558.1h.01M107.1 566.1h.01M107.8 547.7h.01M115.5 559.9h.01M109.0 573.0h.01M103.0 579.4h.01M108.8 574.0h.01M109.8 571.3h.01M111.9 568.9h.01M105.1 557.4h.01M111.4 579.9h.01M109.6 573.0h.01M112.1 572.7h.01M115.0 557.2h.01M112.5 567.5h.01M110.4 562.2h.01M108.7 560.9h.01M117.5 569.0h.01M114.1 561.3h.01M101.7 554.7h.01M112.0 580.1h.01" stroke="#a6a6a6" stroke-width="0.68" stroke-linecap="round" fill="none"/>
<path d="M74.8 582.7h.01M75.8 582.7h.01M76.8 582.7h.01M77.8 582.7h.01M78.8 582.7h.01M79.8 582.7h.01M80.8 582.7h.01M81.8 582.7h.01M82.8 582.7h.01M83.8 582.7h.01" stroke="#555" stroke-width="0.8" stroke-linecap="round" fill="none"/>
<path d="M106.0 582.7h.01M107.0 582.7h.01M108.0 582.7h.01M109.0 582.7h.01M110.0 582.7h.01M111.0 582.7h.01M112.0 582.7h.01" stroke="#777" stroke-width="0.8" stroke-linecap="round" fill="none"/>
<rect x="73.80" y="534.50" width="22.40" height="18.50" fill="none" stroke="#585858" stroke-width="0.8"/>
<text x="80.40" y="533.20" font-size="4.9" fill="#2a2a2a">93.7</text>
<rect x="100.30" y="553.40" width="24.20" height="30.20" fill="none" stroke="#585858" stroke-width="0.8"/>
<text x="121.00" y="549.80" font-size="4.9" fill="#2a2a2a">2.3</text>
<path d="M167.7 552.2h.01M166.5 552.2h.01M159.2 557.8h.01M165.5 553.6h.01M162.4 552.7h.01M169.5 569.7h.01M166.7 575.8h.01M157.8 561.5h.01M160.7 558.3h.01M168.6 563.6h.01M175.2 555.4h.01M160.1 558.1h.01M169.9 554.4h.01M173.7 571.8h.01M159.0 562.1h.01M174.4 545.5h.01M169.3 557.9h.01M159.0 569.1h.01M169.4 556.0h.01M170.8 564.2h.01M172.9 563.7h.01M170.6 550.9h.01M165.3 560.4h.01M165.6 551.8h.01M156.5 561.3h.01M168.2 555.2h.01M165.4 553.0h.01M163.3 558.8h.01M163.9 564.5h.01M167.1 560.5h.01M170.6 568.8h.01M171.8 561.2h.01M167.0 553.6h.01M165.8 564.5h.01M169.4 556.7h.01M159.6 548.3h.01M170.0 567.0h.01M170.4 549.5h.01M166.7 561.1h.01M162.2 562.0h.01M166.7 553.4h.01M160.1 565.4h.01M170.3 553.0h.01M161.6 566.0h.01M171.8 557.3h.01M178.1 557.4h.01M161.3 567.5h.01M166.8 562.0h.01M168.2 552.2h.01M160.5 558.1h.01M176.9 552.2h.01M176.6 561.1h.01M161.0 561.4h.01M171.6 552.9h.01M154.5 562.1h.01M161.0 562.7h.01M155.9 558.5h.01M162.9 548.7h.01M166.5 560.8h.01M164.5 550.9h.01" stroke="#b0b0b0" stroke-width="0.72" stroke-linecap="round" fill="none"/>
<path d="M193.0 570.6h.01M159.8 547.0h.01M157.7 572.7h.01M159.0 541.3h.01M192.2 561.8h.01M156.6 566.8h.01M190.1 558.3h.01M156.6 567.2h.01M175.1 562.6h.01M204.7 572.6h.01M198.3 543.8h.01M170.9 559.8h.01" stroke="#bbb" stroke-width="0.66" stroke-linecap="round" fill="none"/>
<rect x="151.30" y="527.90" width="24.50" height="18.40" fill="none" stroke="#585858" stroke-width="0.8"/>
<text x="178.20" y="539.30" font-size="4.9" fill="#2a2a2a">0.0</text>
</g>
</svg>
</body>
</html>
